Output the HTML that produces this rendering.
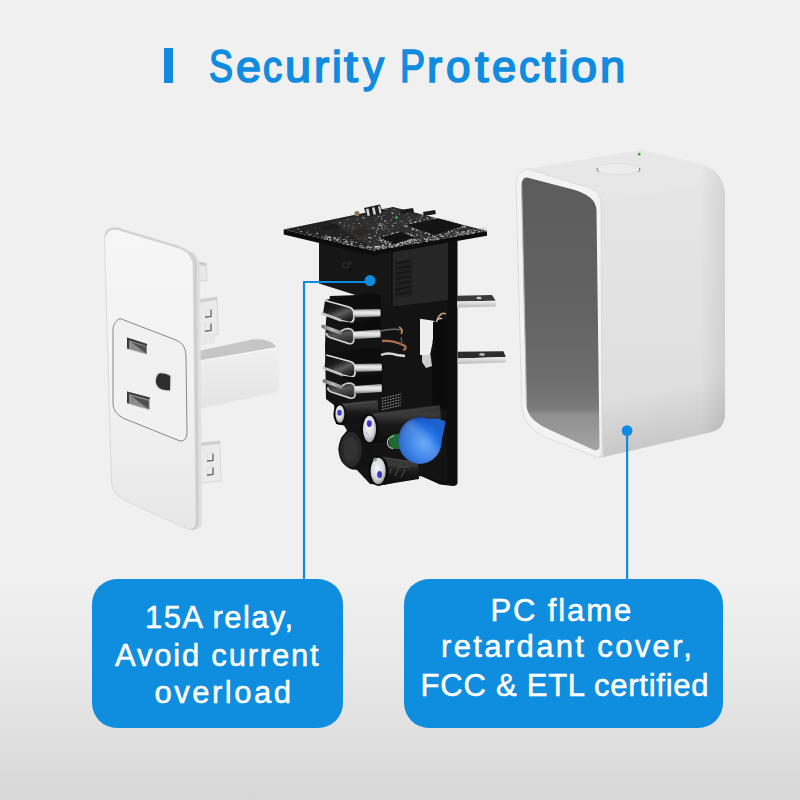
<!DOCTYPE html>
<html><head><meta charset="utf-8">
<style>
html,body{margin:0;padding:0;}
body{width:800px;height:800px;overflow:hidden;position:relative;font-family:"Liberation Sans",sans-serif;
background:linear-gradient(to bottom,#f0f0f0 0%,#f0f0f0 72%,#e8e8e8 84%,#d7d7d7 100%);}
.title{position:absolute;left:0;top:0;width:800px;height:120px;}
.bar{position:absolute;left:164px;top:48px;width:9px;height:35px;background:#0f8ce0;}
.ttl{position:absolute;left:0;top:0;width:800px;height:110px;color:#0f8ce0;}
.ttl span{position:absolute;display:block;line-height:1;white-space:nowrap;transform-origin:0 0;-webkit-text-stroke:1.7px #0f8ce0;}
.box{position:absolute;background:#0f8ee0;border-radius:25px;color:#fff;text-align:center;font-size:31px;line-height:38px;letter-spacing:1.2px;-webkit-text-stroke:0.5px #fff;}
.b1{left:92px;top:579px;width:251px;height:149px;}
.b2{left:404px;top:579px;width:319px;height:149px;}
.ln{position:absolute;white-space:nowrap;color:#fff;font-size:31px;line-height:31px;-webkit-text-stroke:0.5px #fff;}

svg{position:absolute;left:0;top:0;}
</style></head>
<body>
<div class="bar"></div>
<div class="ttl"><span style="left:208.93px;top:42.64px;font-size:46.5px;transform:scaleX(0.771)">S</span>
<span style="left:235.76px;top:44.75px;font-size:44.0px;transform:scaleX(1.020)">e</span>
<span style="left:263.26px;top:44.75px;font-size:44.0px;transform:scaleX(0.868)">c</span>
<span style="left:284.66px;top:44.75px;font-size:44.0px;transform:scaleX(1.064)">u</span>
<span style="left:313.86px;top:44.75px;font-size:44.0px;transform:scaleX(1.031)">r</span>
<span style="left:331.71px;top:44.75px;font-size:44.0px;transform:scaleX(0.997)">i</span>
<span style="left:344.11px;top:44.75px;font-size:44.0px;transform:scaleX(1.129)">t</span>
<span style="left:363.01px;top:44.75px;font-size:44.0px;transform:scaleX(0.953)">y</span>
<span style="left:400.11px;top:42.64px;font-size:46.5px;transform:scaleX(0.807)">P</span>
<span style="left:427.36px;top:44.75px;font-size:44.0px;transform:scaleX(1.031)">r</span>
<span style="left:446.15px;top:44.75px;font-size:44.0px;transform:scaleX(0.999)">o</span>
<span style="left:474.70px;top:44.75px;font-size:44.0px;transform:scaleX(1.098)">t</span>
<span style="left:492.29px;top:44.75px;font-size:44.0px;transform:scaleX(0.987)">e</span>
<span style="left:518.54px;top:44.75px;font-size:44.0px;transform:scaleX(0.943)">c</span>
<span style="left:541.70px;top:44.75px;font-size:44.0px;transform:scaleX(1.098)">t</span>
<span style="left:558.41px;top:44.75px;font-size:44.0px;transform:scaleX(1.069)">i</span>
<span style="left:571.24px;top:44.75px;font-size:44.0px;transform:scaleX(1.063)">o</span>
<span style="left:600.37px;top:44.75px;font-size:44.0px;transform:scaleX(1.030)">n</span></div>

<svg width="800" height="800" viewBox="0 0 800 800">
<g id="plate">
<linearGradient id="plF" x1="0" y1="0" x2="0" y2="1"><stop offset="0" stop-color="#f6f6f6"/><stop offset="0.55" stop-color="#f2f2f2"/><stop offset="1" stop-color="#e7e7e7"/></linearGradient>
<linearGradient id="barF" x1="0" y1="0" x2="0" y2="1"><stop offset="0" stop-color="#f0f0f0"/><stop offset="1" stop-color="#e4e4e4"/></linearGradient>
<!-- tabs behind plate -->
<path d="M194,262 L206,264 L207,281 L195,280 Z" fill="#e9e9e9" stroke="#c8c8c8" stroke-width="0.6"/>
<path d="M194,261 L206,263 L206,266 L194,264 Z" fill="#c9c9c9"/>
<path d="M197,300 L217,297 L218,334 L198,337 Z" fill="#ebebeb" stroke="#c8c8c8" stroke-width="0.6"/>
<path d="M197,300 L217,297 L217,300 L197,303 Z" fill="#cfcfcf"/>
<path d="M198,336 L215,333.5 L215,343 L198,346 Z" fill="#e8e8e8"/>
<path d="M211.0,309.5 L211.0,316.5 L205.0,317.1" stroke="#4a4a4a" stroke-width="1.1" fill="none"/><path d="M205.0,316.5 L205.0,309.5 L211.0,309.1" stroke="#dddddd" stroke-width="0.8" fill="none"/>
<path d="M211.0,323.5 L211.0,330.5 L205.0,331.1" stroke="#4a4a4a" stroke-width="1.1" fill="none"/><path d="M205.0,330.5 L205.0,323.5 L211.0,323.1" stroke="#dddddd" stroke-width="0.8" fill="none"/>
<path d="M200,443 L220,441 L221,481 L201,483 Z" fill="#ebebeb" stroke="#c8c8c8" stroke-width="0.6"/>
<path d="M200,443 L220,441 L220,444 L200,446 Z" fill="#cfcfcf"/>
<path d="M213.0,453.5 L213.0,460.5 L207.0,461.1" stroke="#4a4a4a" stroke-width="1.1" fill="none"/><path d="M207.0,460.5 L207.0,453.5 L213.0,453.1" stroke="#dddddd" stroke-width="0.8" fill="none"/>
<path d="M213.0,467.5 L213.0,474.5 L207.0,475.1" stroke="#4a4a4a" stroke-width="1.1" fill="none"/><path d="M207.0,474.5 L207.0,467.5 L213.0,467.1" stroke="#dddddd" stroke-width="0.8" fill="none"/>
<!-- horizontal bar -->
<path d="M196,351.6 L253.7,339.2 Q272,338.5 277.1,347.7 L196,361.6 Z" fill="#c6c6c6"/>
<path d="M196,361.6 L277.1,347.7 Q278.5,349 278.5,352 L278.5,389 Q278,392 275,392.6 L196,409.4 Z" fill="url(#barF)"/>
<path d="M196,361.6 L277.1,347.7" stroke="#f8f8f8" stroke-width="1.2" fill="none"/>
<!-- plate side -->
<path d="M188,250 Q199,254 200,266 L202,521 Q202,528 196,530 L189,529.5 Z" fill="#e0e0e0"/>
<path d="M190,252 Q196.5,256 197,266 L199,521 Q199,528 194,530 L189,529.5 Z" fill="#cfcfcf"/>
<!-- plate face -->
<path d="M104.5,240 Q105,228 116,227.6 L179,246.5 Q192,251 193,262 L196,520 Q196,529.5 189,529.5 L130,503 Q112,495 111.5,482 Z" fill="url(#plF)" stroke="#d6d6d6" stroke-width="0.8"/>
<path d="M105.5,236 Q106,228.6 116,228.4 L179,247.3 Q190.5,251.5 192.5,260" stroke="#d2d2d2" stroke-width="2.2" fill="none"/>
<!-- socket inset -->
<path d="M113,330 Q113,322 120,318.5 L176,340 Q186,344 186,356 L187,432 Q187,441.5 180,441 L124,418.5 Q113,413 113,404 Z" fill="#f1f1f1" stroke="#7c7c7c" stroke-width="0.9"/>
<path d="M127,337.5 L147,344 L147,354.6 L127,349 Z" fill="#8c8c8c"/>
<path d="M127,337.5 L147,344 L147,346 L129,340.2 L129,349.5 L127,349 Z" fill="#3a3a3a"/>
<path d="M131,342 L146,346.8 L146,353.6 Z" fill="#505050"/>
<path d="M127,349 L147,354.6" stroke="#d8d8d8" stroke-width="1"/>
<path d="M127,391.4 L149.6,397.5 L149.6,410 L127,403.6 Z" fill="#8c8c8c"/>
<path d="M127,391.4 L149.6,397.5 L149.6,399.5 L129,394 L129,404 L127,403.6 Z" fill="#3a3a3a"/>
<path d="M131,396 L148.6,400.8 L148.6,409 Z" fill="#505050"/>
<path d="M127,403.6 L149.6,410" stroke="#d8d8d8" stroke-width="1"/>
<path d="M157,373.5 Q154.5,376 154.5,381 Q155,388 161,390.5 Q166,392 171,391.5 L171.5,375 Q167,372 161,371.8 Q158.5,372 157,373.5 Z" fill="#dcdcdc"/>
<path d="M158,374.5 Q155.8,377 155.8,381 Q156.3,387 161.5,389.3 Q165.5,390.6 170,390.2 L170.3,376 Q166.5,373.3 161,373.2 Q159.3,373.3 158,374.5 Z" fill="#2e2e2e"/>
</g>

<g id="pcb">
<defs>
<linearGradient id="bar" x1="0" y1="0" x2="0" y2="1"><stop offset="0" stop-color="#8a8a8a"/><stop offset="0.35" stop-color="#ececec"/><stop offset="0.65" stop-color="#d6d6d6"/><stop offset="1" stop-color="#6c6c6c"/></linearGradient>
<linearGradient id="lip" x1="0" y1="0" x2="1" y2="0"><stop offset="0" stop-color="#7a7a7a"/><stop offset="0.5" stop-color="#b8b8b8"/><stop offset="1" stop-color="#8a8a8a"/></linearGradient>
<linearGradient id="innerU" x1="0" y1="0" x2="0.6" y2="1"><stop offset="0" stop-color="#0a0a0a"/><stop offset="0.45" stop-color="#1e1e1e"/><stop offset="0.7" stop-color="#5c5c5c"/><stop offset="0.85" stop-color="#3a3a3a"/><stop offset="1" stop-color="#202020"/></linearGradient><linearGradient id="innerL" x1="0" y1="0" x2="0.3" y2="1"><stop offset="0" stop-color="#1a1a1a"/><stop offset="0.5" stop-color="#555"/><stop offset="1" stop-color="#2a2a2a"/></linearGradient>
<radialGradient id="disc" cx="0.58" cy="0.58" r="0.6"><stop offset="0" stop-color="#4a95f5"/><stop offset="0.55" stop-color="#2272e2"/><stop offset="0.88" stop-color="#1a5cc8"/><stop offset="1" stop-color="#123f92"/></radialGradient>
<linearGradient id="discHi" x1="0" y1="1" x2="1" y2="0"><stop offset="0" stop-color="#fff" stop-opacity="0"/><stop offset="0.55" stop-color="#cfe4ff" stop-opacity="0.25"/><stop offset="0.7" stop-color="#fff" stop-opacity="0"/></linearGradient>
<radialGradient id="capEnd" cx="0.45" cy="0.4" r="0.65"><stop offset="0" stop-color="#f4f4fa"/><stop offset="0.6" stop-color="#d8d8e0"/><stop offset="1" stop-color="#8c8c94"/></radialGradient>
<linearGradient id="capBody" x1="0" y1="0" x2="0" y2="1"><stop offset="0" stop-color="#2c2c2c"/><stop offset="0.25" stop-color="#3a3a3a"/><stop offset="0.5" stop-color="#1a1a1a"/><stop offset="1" stop-color="#0c0c0c"/></linearGradient>
<linearGradient id="prongF" x1="0" y1="0" x2="0" y2="1"><stop offset="0" stop-color="#f0f0f0"/><stop offset="1" stop-color="#b8b8b8"/></linearGradient>
</defs>
<path d="M446,238 L457.5,240 L457.5,483 Q457,486 453,486 L440,484.5 L421,476 L410,470 L410,300 Z" fill="#0e0e0e"/>
<path d="M330,296 L447,292 L447,482 L421,476 L384,485 L370,484 L356,469 L342,462 L338.5,449 L341,438 L347,430.5 L344,425.5 L336,424 L334,405 L326,399 L325,345 L326,320 Z" fill="#131313"/>
<path d="M420,318.7 L435,321 L435,337.5 Q432,339 432.5,343 L430,355 L420,355 Z" fill="#eeeeee"/>
<path d="M422,355 L430.5,355 L432,366 L426,368 L422,362 Z" fill="#cdcdcd"/>
<path d="M433,322 Q440,318 447,320 L447,410 L433,408 Q431,380 433,345 Z" fill="#0b0b0b"/>
<path d="M437,320 Q441,311 446,314" stroke="#c89a7a" stroke-width="1.6" fill="none"/>
<path d="M436,322 Q439,317 442,319" stroke="#e0e0e0" stroke-width="1.2" fill="none"/>
<path d="M319,242 L373,255 L392,252 L392,306.5 L319,283.5 Z" fill="#161616"/>
<path d="M392,251.7 L448,241.8 L448,300 L392,306.5 Z" fill="#262626"/>
<path d="M392,252 L392,306.5" stroke="#0e0e0e" stroke-width="1.4"/>
<path d="M395,262 L412,259 L412,296 L395,299 Z" fill="#202020"/>
<path d="M395.5,263.5 L411.5,260.7" stroke="#141414" stroke-width="1.3"/>
<path d="M395.5,268.7 L411.5,265.9" stroke="#141414" stroke-width="1.3"/>
<path d="M395.5,273.9 L411.5,271.1" stroke="#141414" stroke-width="1.3"/>
<path d="M395.5,279.1 L411.5,276.3" stroke="#141414" stroke-width="1.3"/>
<path d="M395.5,284.3 L411.5,281.5" stroke="#141414" stroke-width="1.3"/>
<path d="M395.5,289.5 L411.5,286.7" stroke="#141414" stroke-width="1.3"/>
<path d="M395.5,294.7 L411.5,291.9" stroke="#141414" stroke-width="1.3"/>
<circle cx="345.5" cy="265" r="2.8" fill="none" stroke="#303030" stroke-width="1.1"/>
<circle cx="350" cy="263" r="1.6" fill="#2a2a2a"/>
<circle cx="350" cy="270" r="1.2" fill="#0a0a0a"/>
<path d="M457,295.8 L492,295 L495.7,300.7 L457,301.5 Z" fill="#3a3a3a"/>
<path d="M457,301.5 L495.7,300.7 L495.7,306.5 L457,307.5 Z" fill="url(#prongF)"/>
<ellipse cx="479" cy="298" rx="2.6" ry="1.3" fill="#c8c8c8"/>
<path d="M457.7,351.7 L503.5,351.2 L505.7,357 L457.7,358.5 Z" fill="#2c2c2c"/>
<path d="M457.7,358.5 L505.7,357 L505.7,362.5 L457.7,364 Z" fill="url(#prongF)"/>
<ellipse cx="482" cy="354.5" rx="3" ry="1.4" fill="#b4b4b4"/>
<path d="M 324.5,300.0 L 370.0,293.0 L 381.0,295.0 L 381.0,309.0 L 353.5,309.5 Z" fill="#0d0d0d"/><path d="M 325.0,300.5 L 349.0,307.0 Q 353.5,308.5 353.8,313.0 L 353.8,318.5 Q 353.5,323.0 348.5,322.5 L 340.0,320.5 L 323.0,314.0 Z" fill="url(#innerU)"/><path d="M 325.0,300.5 L 349.0,307.0 Q 353.5,308.5 353.8,313.0 L 353.8,318.5 Q 353.5,323.0 348.5,322.5 L 340.0,320.5" fill="none" stroke="#dcdcdc" stroke-width="1.8"/><path d="M 322.5,313.5 L 340.0,320.0" fill="none" stroke="#c4c4c4" stroke-width="2.6" stroke-linecap="round"/><path d="M 353.5,309.5 L 379.5,309.0 L 380.5,310.0 L 380.5,316.0 L 379.5,316.5 L 353.5,317.6 Z" fill="url(#bar)"/><path d="M 340.0,321.0 L 353.8,323.0 L 380.5,318.0 L 380.5,330.0 L 353.5,331.4 Z" fill="#0b0b0b"/><path d="M 326.4,330.5 Q 338.0,329.0 340.0,332.0 Q 344.0,328.5 348.0,328.5 Q 353.5,329.0 353.8,333.5 L 353.8,340.0 Q 353.5,344.5 349.0,343.6 L 330.0,337.5 Q 326.4,336.0 326.4,333.0 Z" fill="url(#innerL)"/><path d="M 340.0,332.0 Q 344.0,328.5 348.0,328.5 Q 353.5,329.0 353.8,333.5 L 353.8,340.0 Q 353.5,344.5 349.0,343.6 L 330.0,337.5 Q 326.4,336.0 326.4,333.0" fill="none" stroke="#d0d0d0" stroke-width="1.7"/><path d="M 323.0,326.5 L 340.0,332.5" fill="none" stroke="url(#lip)" stroke-width="3.6" stroke-linecap="round"/><path d="M 353.5,331.4 L 379.5,329.6 L 380.5,330.5 L 380.5,337.0 L 379.5,337.5 L 353.5,339.2 Z" fill="url(#bar)"/>
<path d="M 325.8,354.5 L 371.3,347.5 L 382.3,349.5 L 382.3,363.5 L 354.8,364.0 Z" fill="#0d0d0d"/><path d="M 326.3,355.0 L 350.3,361.5 Q 354.8,363.0 355.1,367.5 L 355.1,373.0 Q 354.8,377.5 349.8,377.0 L 341.3,375.0 L 324.3,368.5 Z" fill="url(#innerU)"/><path d="M 326.3,355.0 L 350.3,361.5 Q 354.8,363.0 355.1,367.5 L 355.1,373.0 Q 354.8,377.5 349.8,377.0 L 341.3,375.0" fill="none" stroke="#dcdcdc" stroke-width="1.8"/><path d="M 323.8,368.0 L 341.3,374.5" fill="none" stroke="#c4c4c4" stroke-width="2.6" stroke-linecap="round"/><path d="M 354.8,364.0 L 380.8,363.5 L 381.8,364.5 L 381.8,370.5 L 380.8,371.0 L 354.8,372.1 Z" fill="url(#bar)"/><path d="M 341.3,375.5 L 355.1,377.5 L 381.8,372.5 L 381.8,384.5 L 354.8,385.9 Z" fill="#0b0b0b"/><path d="M 327.7,385.0 Q 339.3,383.5 341.3,386.5 Q 345.3,383.0 349.3,383.0 Q 354.8,383.5 355.1,388.0 L 355.1,394.5 Q 354.8,399.0 350.3,398.1 L 331.3,392.0 Q 327.7,390.5 327.7,387.5 Z" fill="url(#innerL)"/><path d="M 341.3,386.5 Q 345.3,383.0 349.3,383.0 Q 354.8,383.5 355.1,388.0 L 355.1,394.5 Q 354.8,399.0 350.3,398.1 L 331.3,392.0 Q 327.7,390.5 327.7,387.5" fill="none" stroke="#d0d0d0" stroke-width="1.7"/><path d="M 324.3,381.0 L 341.3,387.0" fill="none" stroke="url(#lip)" stroke-width="3.6" stroke-linecap="round"/><path d="M 354.8,385.9 L 380.8,384.1 L 381.8,385.0 L 381.8,391.5 L 380.8,392.0 L 354.8,393.7 Z" fill="url(#bar)"/>
<path d="M381,331 Q392,328 402,330" stroke="#6a6a6a" stroke-width="1.6" fill="none"/>
<path d="M399,327 Q404,330 401,334" stroke="#b87a55" stroke-width="2" fill="none"/>
<path d="M382,341 Q394,340 405,346 Q407,349 403,350" stroke="#a86e4e" stroke-width="2.3" fill="none"/>
<path d="M381,355 Q388,352 397,355 L405,356" stroke="#d8d8d8" stroke-width="2.4" fill="none"/>
<path d="M401,337 L402,343" stroke="#4a6a8a" stroke-width="1.2"/>
<path d="M337.5,404 L377.8,399.6 L379,419 L341,424.5 Z" fill="url(#capBody)"/>
<path d="M339,405.5 L377,401.5" stroke="#4a4a4a" stroke-width="1.6"/>
<ellipse cx="339.8" cy="414.2" rx="6.4" ry="10.6" fill="#0a0a0a"/>
<ellipse cx="339.9" cy="414" rx="4.5" ry="8.8" fill="url(#capEnd)"/>
<ellipse cx="339.5" cy="412.8" rx="2.2" ry="3" fill="#3a3ac0"/>
<ellipse cx="355.5" cy="449.5" rx="17" ry="20.2" fill="#121212"/>
<ellipse cx="351" cy="449.5" rx="10.8" ry="17.6" fill="#282828"/>
<ellipse cx="350.5" cy="449.5" rx="7" ry="12.5" fill="#323232"/>
<path d="M367,414 L440,405 L442,437 L371,443.4 Z" fill="url(#capBody)"/>
<path d="M369,416 L438,407" stroke="#3c3c3c" stroke-width="1.8"/>
<path d="M379,397 L402,392 L404,407 L381,412 Z" fill="#151515"/>
<path d="M382.0,398.5 L401.0,394.0" stroke="#9a9a9a" stroke-width="1" stroke-dasharray="1.6 1.1"/>
<path d="M382.0,401.3 L401.0,396.8" stroke="#9a9a9a" stroke-width="1" stroke-dasharray="1.6 1.1"/>
<path d="M382.0,404.1 L401.0,399.6" stroke="#9a9a9a" stroke-width="1" stroke-dasharray="1.6 1.1"/>
<path d="M382.0,406.9 L401.0,402.4" stroke="#9a9a9a" stroke-width="1" stroke-dasharray="1.6 1.1"/>
<path d="M382.0,409.7 L401.0,405.2" stroke="#9a9a9a" stroke-width="1" stroke-dasharray="1.6 1.1"/>
<ellipse cx="369.3" cy="428.6" rx="9" ry="15" fill="#0a0a0a"/>
<ellipse cx="369.5" cy="429" rx="6.6" ry="13.2" fill="url(#capEnd)"/>
<ellipse cx="369.3" cy="423.6" rx="2.4" ry="3.4" fill="#3636c0"/>
<path d="M366,432 L372,440" stroke="#b0b0b0" stroke-width="0.8"/>
<path d="M389,442 Q389,434 395,434 L400,434 L400,449 L395,449 Q389,448.5 389,442 Z" fill="#1d6b2e"/>
<path d="M394,436 Q387,437 387.5,443 Q388,448 393,448.5" stroke="#c4c4c4" stroke-width="1.2" fill="none"/>
<path d="M376,457 L418,462 L419,479 L379,485.5 Z" fill="url(#capBody)"/>
<path d="M379,457 L416,462.5" stroke="#444" stroke-width="1.6"/>
<path d="M395,476 L399,467 L410,466.5 M401,478 L405,469 M390,474 Q389,470 392,469" stroke="#4e4e4e" stroke-width="1" fill="none"/>
<ellipse cx="378.6" cy="471" rx="10" ry="15" fill="#0a0a0a"/>
<ellipse cx="378.2" cy="471" rx="7.6" ry="13.2" fill="url(#capEnd)"/>
<ellipse cx="379.6" cy="474.5" rx="2.4" ry="3.5" fill="#3636c0"/>
<circle cx="375" cy="459.5" r="2" fill="#7a9a7a" opacity="0.8"/>
<path d="M426,419 Q438,417 445.5,421.5 Q444,433 440,446 Z" fill="#1e62d0"/>
<ellipse cx="420" cy="440.5" rx="21.8" ry="23.4" fill="url(#disc)"/>
<ellipse cx="420" cy="440.5" rx="21.8" ry="23.4" fill="url(#discHi)"/>
<path d="M283.7,229.5 L283.7,234.5 L373,255.8 L487,235.8 L487,231 L373,250.5 Z" fill="#0c0c0c"/>
<path d="M283.7,229.5 L393,207 L487,231 L373,250.5 Z" fill="#222222"/>
<path d="M330,222 L393,208.5 L484,231 L373,249 Z" fill="#2e2e2e"/>
<rect x="375.8" y="231.6" width="1.2" height="1.1" fill="rgb(160,160,160)"/>
<rect x="380.6" y="234.0" width="0.8" height="0.7" fill="rgb(75,75,75)"/>
<rect x="416.7" y="234.1" width="1.4" height="1.1" fill="rgb(75,75,75)"/>
<rect x="462.6" y="233.4" width="1.1" height="0.9" fill="rgb(160,160,160)"/>
<rect x="366.6" y="231.3" width="1.5" height="0.7" fill="rgb(65,65,65)"/>
<rect x="365.3" y="244.2" width="1.6" height="0.5" fill="rgb(55,55,55)"/>
<rect x="411.8" y="241.3" width="1.1" height="0.7" fill="rgb(105,105,105)"/>
<rect x="378.4" y="228.4" width="0.9" height="0.9" fill="rgb(185,185,185)"/>
<rect x="369.1" y="223.9" width="0.7" height="1.1" fill="rgb(90,90,90)"/>
<rect x="406.2" y="232.4" width="1.8" height="0.6" fill="rgb(55,55,55)"/>
<rect x="406.1" y="223.4" width="0.8" height="0.9" fill="rgb(160,160,160)"/>
<rect x="423.5" y="224.1" width="1.4" height="0.8" fill="rgb(160,160,160)"/>
<rect x="427.0" y="218.3" width="1.2" height="0.9" fill="rgb(210,210,210)"/>
<rect x="341.2" y="230.4" width="1.1" height="1.1" fill="rgb(65,65,65)"/>
<rect x="424.3" y="232.7" width="1.3" height="1.1" fill="rgb(75,75,75)"/>
<rect x="380.4" y="222.7" width="1.8" height="0.5" fill="rgb(105,105,105)"/>
<rect x="413.1" y="228.2" width="1.1" height="1.2" fill="rgb(105,105,105)"/>
<rect x="460.8" y="225.4" width="1.6" height="0.9" fill="rgb(55,55,55)"/>
<rect x="410.9" y="223.8" width="0.7" height="0.6" fill="rgb(210,210,210)"/>
<rect x="376.9" y="227.4" width="0.8" height="1.0" fill="rgb(185,185,185)"/>
<rect x="381.6" y="217.1" width="1.2" height="0.9" fill="rgb(65,65,65)"/>
<rect x="421.7" y="215.9" width="1.5" height="0.7" fill="rgb(75,75,75)"/>
<rect x="472.9" y="228.9" width="1.1" height="1.0" fill="rgb(90,90,90)"/>
<rect x="384.3" y="220.9" width="1.2" height="0.6" fill="rgb(210,210,210)"/>
<rect x="399.8" y="220.6" width="0.7" height="0.6" fill="rgb(210,210,210)"/>
<rect x="411.7" y="226.6" width="1.4" height="1.1" fill="rgb(185,185,185)"/>
<rect x="339.3" y="222.2" width="1.3" height="1.2" fill="rgb(185,185,185)"/>
<rect x="426.1" y="216.9" width="1.7" height="1.0" fill="rgb(140,140,140)"/>
<rect x="399.5" y="245.7" width="1.2" height="1.0" fill="rgb(120,120,120)"/>
<rect x="414.2" y="238.6" width="1.0" height="0.8" fill="rgb(90,90,90)"/>
<rect x="386.5" y="208.6" width="1.3" height="1.0" fill="rgb(120,120,120)"/>
<rect x="476.0" y="228.7" width="1.5" height="0.8" fill="rgb(65,65,65)"/>
<rect x="397.4" y="243.6" width="1.4" height="0.9" fill="rgb(185,185,185)"/>
<rect x="455.3" y="231.6" width="1.4" height="1.2" fill="rgb(105,105,105)"/>
<rect x="460.6" y="233.8" width="1.6" height="1.2" fill="rgb(105,105,105)"/>
<rect x="390.4" y="232.2" width="1.2" height="0.6" fill="rgb(90,90,90)"/>
<rect x="393.3" y="208.9" width="1.3" height="1.2" fill="rgb(140,140,140)"/>
<rect x="377.2" y="247.5" width="1.0" height="0.8" fill="rgb(140,140,140)"/>
<rect x="466.8" y="228.0" width="0.8" height="0.8" fill="rgb(120,120,120)"/>
<rect x="430.9" y="217.8" width="0.8" height="1.0" fill="rgb(160,160,160)"/>
<rect x="360.3" y="225.2" width="1.3" height="1.1" fill="rgb(75,75,75)"/>
<rect x="392.4" y="216.6" width="1.6" height="0.9" fill="rgb(90,90,90)"/>
<rect x="324.8" y="237.0" width="1.5" height="0.9" fill="rgb(65,65,65)"/>
<rect x="438.7" y="234.0" width="1.2" height="0.6" fill="rgb(210,210,210)"/>
<rect x="420.6" y="232.5" width="1.7" height="0.8" fill="rgb(75,75,75)"/>
<rect x="439.2" y="221.4" width="1.2" height="0.7" fill="rgb(160,160,160)"/>
<rect x="366.8" y="222.8" width="1.4" height="0.6" fill="rgb(90,90,90)"/>
<rect x="444.8" y="221.2" width="1.6" height="1.0" fill="rgb(65,65,65)"/>
<rect x="458.7" y="234.7" width="1.3" height="0.6" fill="rgb(140,140,140)"/>
<rect x="402.7" y="222.0" width="1.0" height="0.6" fill="rgb(105,105,105)"/>
<rect x="351.0" y="230.7" width="1.5" height="0.8" fill="rgb(140,140,140)"/>
<rect x="356.2" y="235.1" width="1.0" height="1.2" fill="rgb(90,90,90)"/>
<rect x="388.5" y="228.9" width="1.5" height="1.0" fill="rgb(90,90,90)"/>
<rect x="408.9" y="239.5" width="1.2" height="0.9" fill="rgb(105,105,105)"/>
<rect x="438.5" y="235.5" width="0.8" height="0.7" fill="rgb(55,55,55)"/>
<rect x="467.8" y="231.2" width="1.2" height="0.9" fill="rgb(185,185,185)"/>
<rect x="374.2" y="235.4" width="1.4" height="1.0" fill="rgb(185,185,185)"/>
<rect x="384.6" y="233.9" width="1.2" height="0.8" fill="rgb(55,55,55)"/>
<rect x="391.7" y="228.3" width="1.3" height="0.7" fill="rgb(105,105,105)"/>
<rect x="429.5" y="220.0" width="1.5" height="0.9" fill="rgb(55,55,55)"/>
<rect x="412.5" y="225.0" width="0.8" height="0.7" fill="rgb(140,140,140)"/>
<rect x="364.7" y="232.6" width="0.8" height="1.1" fill="rgb(120,120,120)"/>
<rect x="371.2" y="228.0" width="0.7" height="0.6" fill="rgb(90,90,90)"/>
<rect x="368.6" y="233.4" width="1.1" height="1.0" fill="rgb(140,140,140)"/>
<rect x="381.7" y="229.1" width="1.6" height="0.9" fill="rgb(105,105,105)"/>
<rect x="356.9" y="218.9" width="0.9" height="0.7" fill="rgb(210,210,210)"/>
<rect x="385.9" y="235.7" width="1.7" height="0.5" fill="rgb(90,90,90)"/>
<rect x="370.3" y="234.4" width="0.9" height="0.7" fill="rgb(65,65,65)"/>
<rect x="374.8" y="243.2" width="1.2" height="1.0" fill="rgb(90,90,90)"/>
<rect x="453.8" y="233.3" width="1.3" height="1.0" fill="rgb(105,105,105)"/>
<rect x="423.1" y="220.2" width="0.8" height="0.6" fill="rgb(55,55,55)"/>
<rect x="345.7" y="238.9" width="1.7" height="0.7" fill="rgb(105,105,105)"/>
<rect x="417.4" y="221.4" width="1.1" height="0.8" fill="rgb(65,65,65)"/>
<rect x="423.5" y="219.3" width="1.6" height="0.7" fill="rgb(185,185,185)"/>
<rect x="348.5" y="224.6" width="1.0" height="0.8" fill="rgb(185,185,185)"/>
<rect x="358.2" y="223.0" width="1.6" height="1.0" fill="rgb(140,140,140)"/>
<rect x="404.0" y="214.8" width="1.5" height="1.1" fill="rgb(65,65,65)"/>
<rect x="388.7" y="230.9" width="1.0" height="0.5" fill="rgb(210,210,210)"/>
<rect x="454.9" y="225.6" width="1.3" height="1.1" fill="rgb(210,210,210)"/>
<rect x="415.7" y="217.8" width="1.2" height="1.1" fill="rgb(90,90,90)"/>
<rect x="352.6" y="227.2" width="1.4" height="0.8" fill="rgb(120,120,120)"/>
<rect x="393.1" y="238.7" width="1.7" height="0.8" fill="rgb(210,210,210)"/>
<rect x="451.7" y="236.3" width="1.6" height="1.1" fill="rgb(55,55,55)"/>
<rect x="414.0" y="230.0" width="1.6" height="0.8" fill="rgb(55,55,55)"/>
<rect x="369.4" y="213.4" width="1.5" height="0.7" fill="rgb(140,140,140)"/>
<rect x="463.9" y="227.7" width="1.0" height="0.6" fill="rgb(65,65,65)"/>
<rect x="381.7" y="242.2" width="0.8" height="0.6" fill="rgb(120,120,120)"/>
<rect x="429.6" y="233.2" width="1.2" height="1.1" fill="rgb(90,90,90)"/>
<rect x="365.7" y="247.1" width="1.7" height="0.9" fill="rgb(185,185,185)"/>
<rect x="457.2" y="228.3" width="1.7" height="0.7" fill="rgb(140,140,140)"/>
<rect x="382.0" y="216.7" width="0.9" height="0.6" fill="rgb(55,55,55)"/>
<rect x="375.4" y="217.8" width="1.4" height="0.6" fill="rgb(140,140,140)"/>
<rect x="388.8" y="235.0" width="1.0" height="0.9" fill="rgb(210,210,210)"/>
<rect x="381.5" y="227.6" width="1.3" height="0.9" fill="rgb(210,210,210)"/>
<rect x="367.9" y="228.7" width="1.0" height="0.8" fill="rgb(105,105,105)"/>
<rect x="419.5" y="236.7" width="1.4" height="0.5" fill="rgb(65,65,65)"/>
<rect x="398.5" y="227.2" width="1.6" height="1.1" fill="rgb(55,55,55)"/>
<rect x="314.9" y="234.6" width="1.5" height="0.9" fill="rgb(120,120,120)"/>
<rect x="346.9" y="219.0" width="1.6" height="0.6" fill="rgb(160,160,160)"/>
<rect x="421.6" y="238.2" width="0.9" height="0.5" fill="rgb(75,75,75)"/>
<rect x="378.0" y="238.0" width="0.9" height="0.6" fill="rgb(65,65,65)"/>
<rect x="387.8" y="235.5" width="1.6" height="0.8" fill="rgb(75,75,75)"/>
<rect x="365.3" y="237.8" width="1.4" height="0.9" fill="rgb(90,90,90)"/>
<rect x="360.7" y="229.4" width="1.4" height="0.6" fill="rgb(65,65,65)"/>
<rect x="395.3" y="222.5" width="1.3" height="0.9" fill="rgb(185,185,185)"/>
<rect x="474.0" y="232.0" width="1.4" height="0.6" fill="rgb(55,55,55)"/>
<rect x="401.0" y="237.7" width="0.8" height="1.1" fill="rgb(120,120,120)"/>
<rect x="375.8" y="239.1" width="1.7" height="0.9" fill="rgb(90,90,90)"/>
<rect x="397.8" y="231.7" width="0.9" height="1.0" fill="rgb(105,105,105)"/>
<rect x="357.8" y="240.4" width="0.9" height="0.9" fill="rgb(75,75,75)"/>
<rect x="346.5" y="236.5" width="1.4" height="0.9" fill="rgb(140,140,140)"/>
<rect x="391.2" y="212.2" width="0.9" height="0.9" fill="rgb(140,140,140)"/>
<rect x="379.4" y="225.1" width="1.7" height="0.9" fill="rgb(210,210,210)"/>
<rect x="351.1" y="229.9" width="1.1" height="0.5" fill="rgb(55,55,55)"/>
<rect x="432.6" y="233.3" width="1.7" height="1.1" fill="rgb(105,105,105)"/>
<rect x="394.6" y="235.9" width="1.7" height="1.2" fill="rgb(90,90,90)"/>
<rect x="358.9" y="231.0" width="0.9" height="1.0" fill="rgb(75,75,75)"/>
<rect x="449.5" y="224.5" width="1.5" height="0.7" fill="rgb(120,120,120)"/>
<rect x="425.7" y="231.6" width="1.4" height="0.6" fill="rgb(185,185,185)"/>
<rect x="418.9" y="241.8" width="1.6" height="0.9" fill="rgb(120,120,120)"/>
<rect x="307.5" y="229.7" width="1.4" height="0.7" fill="rgb(75,75,75)"/>
<rect x="391.2" y="230.4" width="0.7" height="0.9" fill="rgb(55,55,55)"/>
<rect x="393.1" y="225.6" width="0.8" height="0.7" fill="rgb(210,210,210)"/>
<rect x="436.4" y="223.9" width="0.8" height="0.5" fill="rgb(160,160,160)"/>
<rect x="343.2" y="243.4" width="1.5" height="0.9" fill="rgb(185,185,185)"/>
<rect x="404.6" y="240.9" width="1.4" height="0.7" fill="rgb(65,65,65)"/>
<rect x="373.4" y="241.0" width="1.0" height="0.9" fill="rgb(90,90,90)"/>
<rect x="457.1" y="233.5" width="0.7" height="0.9" fill="rgb(105,105,105)"/>
<rect x="429.1" y="232.2" width="1.1" height="0.9" fill="rgb(75,75,75)"/>
<rect x="407.5" y="242.5" width="1.2" height="0.7" fill="rgb(185,185,185)"/>
<rect x="468.2" y="232.0" width="1.3" height="1.0" fill="rgb(185,185,185)"/>
<rect x="370.3" y="237.6" width="1.5" height="1.0" fill="rgb(210,210,210)"/>
<rect x="439.4" y="228.9" width="0.9" height="0.7" fill="rgb(185,185,185)"/>
<rect x="383.4" y="240.5" width="0.9" height="0.8" fill="rgb(75,75,75)"/>
<rect x="396.0" y="217.6" width="0.8" height="0.7" fill="rgb(160,160,160)"/>
<rect x="316.6" y="232.8" width="1.5" height="1.1" fill="rgb(210,210,210)"/>
<rect x="377.9" y="224.3" width="1.1" height="1.0" fill="rgb(90,90,90)"/>
<rect x="395.6" y="214.2" width="1.1" height="0.9" fill="rgb(90,90,90)"/>
<rect x="438.2" y="227.8" width="1.8" height="1.0" fill="rgb(160,160,160)"/>
<rect x="424.3" y="223.0" width="1.4" height="0.9" fill="rgb(105,105,105)"/>
<rect x="434.5" y="229.5" width="1.7" height="1.0" fill="rgb(210,210,210)"/>
<rect x="439.4" y="238.8" width="0.7" height="0.7" fill="rgb(65,65,65)"/>
<rect x="440.5" y="229.8" width="1.0" height="0.9" fill="rgb(55,55,55)"/>
<rect x="383.2" y="215.3" width="1.4" height="0.5" fill="rgb(185,185,185)"/>
<rect x="347.4" y="225.7" width="1.3" height="0.9" fill="rgb(75,75,75)"/>
<rect x="347.7" y="226.9" width="1.6" height="0.9" fill="rgb(90,90,90)"/>
<rect x="375.2" y="213.0" width="1.7" height="0.7" fill="rgb(185,185,185)"/>
<rect x="412.0" y="231.9" width="1.4" height="0.5" fill="rgb(105,105,105)"/>
<rect x="457.1" y="231.6" width="1.4" height="1.2" fill="rgb(120,120,120)"/>
<rect x="370.8" y="224.3" width="1.2" height="1.2" fill="rgb(55,55,55)"/>
<rect x="440.0" y="222.4" width="1.3" height="1.0" fill="rgb(90,90,90)"/>
<rect x="381.1" y="218.3" width="1.0" height="1.1" fill="rgb(185,185,185)"/>
<rect x="339.2" y="223.6" width="1.2" height="0.7" fill="rgb(105,105,105)"/>
<rect x="398.8" y="218.5" width="1.4" height="0.8" fill="rgb(75,75,75)"/>
<rect x="378.2" y="226.8" width="0.7" height="0.6" fill="rgb(140,140,140)"/>
<rect x="386.9" y="220.6" width="1.2" height="0.5" fill="rgb(120,120,120)"/>
<rect x="406.9" y="218.9" width="1.4" height="0.7" fill="rgb(105,105,105)"/>
<rect x="364.0" y="217.5" width="0.8" height="1.1" fill="rgb(185,185,185)"/>
<rect x="343.6" y="225.3" width="1.2" height="1.0" fill="rgb(185,185,185)"/>
<rect x="357.5" y="238.1" width="1.7" height="1.2" fill="rgb(75,75,75)"/>
<rect x="347.0" y="244.4" width="0.7" height="0.9" fill="rgb(160,160,160)"/>
<rect x="364.7" y="239.5" width="1.5" height="0.7" fill="rgb(105,105,105)"/>
<rect x="429.3" y="221.4" width="1.6" height="0.6" fill="rgb(120,120,120)"/>
<rect x="398.4" y="212.7" width="1.4" height="0.6" fill="rgb(140,140,140)"/>
<rect x="434.3" y="218.8" width="0.8" height="0.8" fill="rgb(75,75,75)"/>
<rect x="419.9" y="217.2" width="1.8" height="0.8" fill="rgb(75,75,75)"/>
<rect x="419.2" y="224.0" width="0.8" height="1.0" fill="rgb(75,75,75)"/>
<rect x="342.1" y="239.2" width="1.1" height="1.1" fill="rgb(65,65,65)"/>
<rect x="373.1" y="245.3" width="0.9" height="1.0" fill="rgb(105,105,105)"/>
<rect x="366.9" y="213.2" width="1.3" height="1.1" fill="rgb(90,90,90)"/>
<rect x="398.9" y="213.3" width="1.0" height="0.7" fill="rgb(140,140,140)"/>
<rect x="381.9" y="223.1" width="1.3" height="0.6" fill="rgb(105,105,105)"/>
<rect x="355.3" y="231.6" width="1.3" height="1.0" fill="rgb(90,90,90)"/>
<rect x="410.5" y="219.2" width="1.7" height="1.2" fill="rgb(105,105,105)"/>
<rect x="374.0" y="243.7" width="0.9" height="0.5" fill="rgb(55,55,55)"/>
<rect x="437.0" y="220.6" width="1.2" height="1.1" fill="rgb(185,185,185)"/>
<rect x="384.5" y="220.5" width="1.6" height="1.0" fill="rgb(185,185,185)"/>
<rect x="427.2" y="218.0" width="0.7" height="0.9" fill="rgb(210,210,210)"/>
<rect x="417.4" y="242.7" width="1.4" height="0.8" fill="rgb(120,120,120)"/>
<rect x="416.6" y="233.1" width="1.1" height="1.0" fill="rgb(105,105,105)"/>
<rect x="394.9" y="236.9" width="1.1" height="0.6" fill="rgb(75,75,75)"/>
<rect x="401.5" y="221.1" width="1.8" height="0.7" fill="rgb(160,160,160)"/>
<rect x="339.5" y="236.8" width="1.7" height="1.0" fill="rgb(120,120,120)"/>
<rect x="432.2" y="236.1" width="0.9" height="0.9" fill="rgb(55,55,55)"/>
<rect x="411.6" y="229.2" width="1.7" height="0.6" fill="rgb(210,210,210)"/>
<rect x="434.0" y="239.7" width="1.4" height="0.8" fill="rgb(140,140,140)"/>
<rect x="362.1" y="217.1" width="1.7" height="0.9" fill="rgb(185,185,185)"/>
<rect x="375.7" y="219.5" width="1.4" height="1.2" fill="rgb(55,55,55)"/>
<rect x="314.8" y="227.6" width="0.9" height="0.8" fill="rgb(120,120,120)"/>
<rect x="396.0" y="209.3" width="1.5" height="1.1" fill="rgb(75,75,75)"/>
<rect x="389.1" y="222.3" width="1.3" height="1.1" fill="rgb(90,90,90)"/>
<rect x="396.7" y="241.6" width="1.7" height="0.6" fill="rgb(160,160,160)"/>
<rect x="384.8" y="209.5" width="1.8" height="0.5" fill="rgb(185,185,185)"/>
<rect x="422.4" y="227.5" width="0.8" height="1.2" fill="rgb(160,160,160)"/>
<rect x="419.7" y="226.0" width="1.6" height="1.0" fill="rgb(55,55,55)"/>
<rect x="417.6" y="216.2" width="0.9" height="0.6" fill="rgb(90,90,90)"/>
<rect x="424.8" y="227.5" width="1.0" height="0.7" fill="rgb(75,75,75)"/>
<rect x="384.0" y="212.2" width="1.7" height="0.7" fill="rgb(65,65,65)"/>
<rect x="376.4" y="248.1" width="0.9" height="0.8" fill="rgb(140,140,140)"/>
<rect x="351.7" y="232.7" width="1.0" height="1.0" fill="rgb(105,105,105)"/>
<rect x="420.4" y="217.8" width="1.1" height="0.9" fill="rgb(140,140,140)"/>
<rect x="459.8" y="224.1" width="1.1" height="1.1" fill="rgb(105,105,105)"/>
<rect x="456.6" y="233.0" width="1.4" height="0.8" fill="rgb(185,185,185)"/>
<rect x="403.8" y="237.7" width="1.4" height="0.6" fill="rgb(55,55,55)"/>
<rect x="386.7" y="228.1" width="0.8" height="0.7" fill="rgb(210,210,210)"/>
<rect x="372.0" y="217.1" width="1.8" height="0.5" fill="rgb(65,65,65)"/>
<rect x="377.8" y="224.7" width="1.3" height="0.9" fill="rgb(90,90,90)"/>
<rect x="385.0" y="243.5" width="1.1" height="1.0" fill="rgb(185,185,185)"/>
<rect x="415.7" y="234.4" width="1.4" height="1.2" fill="rgb(105,105,105)"/>
<rect x="380.2" y="245.9" width="1.2" height="0.5" fill="rgb(140,140,140)"/>
<rect x="355.3" y="230.6" width="1.6" height="0.6" fill="rgb(65,65,65)"/>
<rect x="418.5" y="229.4" width="1.0" height="1.0" fill="rgb(105,105,105)"/>
<rect x="377.3" y="244.4" width="1.6" height="0.9" fill="rgb(65,65,65)"/>
<rect x="433.7" y="223.6" width="1.3" height="0.5" fill="rgb(105,105,105)"/>
<rect x="383.3" y="235.8" width="1.7" height="0.9" fill="rgb(185,185,185)"/>
<rect x="385.7" y="246.8" width="1.4" height="0.7" fill="rgb(140,140,140)"/>
<rect x="405.8" y="216.7" width="1.2" height="0.8" fill="rgb(65,65,65)"/>
<rect x="356.8" y="225.9" width="1.0" height="0.9" fill="rgb(55,55,55)"/>
<rect x="450.2" y="236.7" width="0.7" height="0.8" fill="rgb(120,120,120)"/>
<rect x="477.0" y="229.9" width="1.2" height="0.5" fill="rgb(185,185,185)"/>
<rect x="405.4" y="223.2" width="0.9" height="1.0" fill="rgb(105,105,105)"/>
<rect x="403.7" y="242.5" width="1.4" height="0.8" fill="rgb(140,140,140)"/>
<rect x="383.5" y="224.4" width="1.3" height="1.1" fill="rgb(65,65,65)"/>
<rect x="433.6" y="225.4" width="0.9" height="0.6" fill="rgb(65,65,65)"/>
<rect x="437.7" y="236.8" width="1.2" height="1.1" fill="rgb(65,65,65)"/>
<rect x="426.7" y="224.5" width="0.8" height="1.1" fill="rgb(185,185,185)"/>
<rect x="366.7" y="246.5" width="1.4" height="1.1" fill="rgb(90,90,90)"/>
<rect x="384.2" y="237.3" width="1.3" height="0.8" fill="rgb(140,140,140)"/>
<rect x="395.6" y="244.6" width="1.1" height="0.5" fill="rgb(210,210,210)"/>
<rect x="451.1" y="235.7" width="1.4" height="0.9" fill="rgb(140,140,140)"/>
<rect x="362.9" y="232.3" width="1.5" height="0.6" fill="rgb(120,120,120)"/>
<rect x="426.9" y="224.4" width="1.5" height="0.7" fill="rgb(65,65,65)"/>
<rect x="337.0" y="239.1" width="1.7" height="1.1" fill="rgb(105,105,105)"/>
<rect x="368.0" y="230.4" width="1.0" height="1.0" fill="rgb(65,65,65)"/>
<rect x="425.8" y="232.0" width="1.2" height="0.8" fill="rgb(185,185,185)"/>
<rect x="374.7" y="249.7" width="1.6" height="0.6" fill="rgb(120,120,120)"/>
<rect x="429.9" y="219.8" width="0.8" height="0.8" fill="rgb(105,105,105)"/>
<rect x="419.6" y="219.6" width="0.8" height="0.8" fill="rgb(185,185,185)"/>
<rect x="387.4" y="245.4" width="1.6" height="0.9" fill="rgb(75,75,75)"/>
<rect x="436.3" y="237.9" width="1.6" height="0.7" fill="rgb(210,210,210)"/>
<rect x="375.9" y="223.3" width="1.7" height="0.9" fill="rgb(90,90,90)"/>
<rect x="398.9" y="222.3" width="0.8" height="0.9" fill="rgb(90,90,90)"/>
<rect x="434.8" y="220.3" width="0.8" height="0.9" fill="rgb(55,55,55)"/>
<rect x="443.3" y="229.9" width="1.2" height="1.0" fill="rgb(65,65,65)"/>
<rect x="393.9" y="245.4" width="1.6" height="1.2" fill="rgb(75,75,75)"/>
<rect x="403.9" y="237.2" width="1.7" height="0.7" fill="rgb(210,210,210)"/>
<rect x="406.8" y="244.3" width="0.7" height="0.5" fill="rgb(65,65,65)"/>
<rect x="453.2" y="224.9" width="0.9" height="0.8" fill="rgb(120,120,120)"/>
<rect x="430.7" y="229.9" width="1.2" height="0.7" fill="rgb(120,120,120)"/>
<rect x="381.2" y="241.5" width="0.9" height="1.0" fill="rgb(120,120,120)"/>
<rect x="407.9" y="233.2" width="1.0" height="1.1" fill="rgb(210,210,210)"/>
<rect x="345.2" y="221.5" width="1.3" height="0.6" fill="rgb(90,90,90)"/>
<rect x="328.2" y="225.2" width="0.8" height="0.6" fill="rgb(120,120,120)"/>
<rect x="468.1" y="231.7" width="1.2" height="1.1" fill="rgb(65,65,65)"/>
<rect x="376.1" y="223.4" width="1.7" height="0.6" fill="rgb(65,65,65)"/>
<rect x="431.3" y="236.8" width="1.0" height="0.6" fill="rgb(65,65,65)"/>
<rect x="399.2" y="240.5" width="1.0" height="0.6" fill="rgb(185,185,185)"/>
<rect x="382.2" y="246.3" width="1.2" height="0.9" fill="rgb(210,210,210)"/>
<rect x="455.7" y="227.5" width="0.9" height="0.8" fill="rgb(90,90,90)"/>
<rect x="421.7" y="226.3" width="1.1" height="0.5" fill="rgb(210,210,210)"/>
<rect x="446.2" y="229.0" width="1.2" height="0.6" fill="rgb(65,65,65)"/>
<rect x="409.6" y="223.3" width="1.0" height="1.0" fill="rgb(160,160,160)"/>
<rect x="401.6" y="233.9" width="1.3" height="0.8" fill="rgb(140,140,140)"/>
<rect x="354.5" y="231.6" width="1.4" height="1.0" fill="rgb(185,185,185)"/>
<rect x="418.5" y="224.6" width="1.3" height="0.9" fill="rgb(160,160,160)"/>
<rect x="377.8" y="211.0" width="1.4" height="0.5" fill="rgb(160,160,160)"/>
<rect x="393.3" y="209.2" width="1.6" height="0.7" fill="rgb(105,105,105)"/>
<rect x="386.3" y="225.8" width="0.8" height="0.6" fill="rgb(185,185,185)"/>
<rect x="348.2" y="236.3" width="1.4" height="1.0" fill="rgb(90,90,90)"/>
<rect x="374.6" y="220.1" width="1.5" height="1.1" fill="rgb(75,75,75)"/>
<rect x="444.7" y="233.9" width="1.7" height="1.0" fill="rgb(140,140,140)"/>
<rect x="461.3" y="232.0" width="1.4" height="0.8" fill="rgb(160,160,160)"/>
<rect x="425.0" y="229.7" width="1.2" height="1.0" fill="rgb(120,120,120)"/>
<rect x="390.8" y="219.7" width="1.1" height="0.8" fill="rgb(210,210,210)"/>
<rect x="391.9" y="216.5" width="1.6" height="1.1" fill="rgb(90,90,90)"/>
<rect x="380.6" y="225.3" width="1.6" height="1.1" fill="rgb(185,185,185)"/>
<rect x="403.0" y="225.5" width="1.3" height="0.6" fill="rgb(55,55,55)"/>
<rect x="430.1" y="239.0" width="1.0" height="1.1" fill="rgb(120,120,120)"/>
<rect x="378.4" y="234.1" width="1.8" height="0.8" fill="rgb(75,75,75)"/>
<rect x="459.3" y="225.0" width="1.5" height="0.6" fill="rgb(65,65,65)"/>
<rect x="379.1" y="211.6" width="1.6" height="0.8" fill="rgb(90,90,90)"/>
<rect x="403.3" y="220.9" width="1.1" height="0.5" fill="rgb(65,65,65)"/>
<rect x="401.1" y="239.5" width="1.0" height="1.1" fill="rgb(90,90,90)"/>
<rect x="427.7" y="226.7" width="1.4" height="0.6" fill="rgb(120,120,120)"/>
<rect x="461.1" y="234.4" width="1.2" height="0.8" fill="rgb(65,65,65)"/>
<rect x="462.5" y="227.0" width="1.4" height="0.9" fill="rgb(140,140,140)"/>
<rect x="406.6" y="233.3" width="1.2" height="1.0" fill="rgb(160,160,160)"/>
<rect x="408.5" y="216.7" width="1.0" height="1.2" fill="rgb(140,140,140)"/>
<rect x="435.7" y="226.1" width="1.3" height="1.1" fill="rgb(160,160,160)"/>
<rect x="454.0" y="224.2" width="1.8" height="1.0" fill="rgb(210,210,210)"/>
<rect x="353.0" y="223.0" width="1.5" height="0.9" fill="rgb(105,105,105)"/>
<rect x="349.9" y="239.0" width="1.5" height="0.7" fill="rgb(105,105,105)"/>
<rect x="384.4" y="228.4" width="1.4" height="0.6" fill="rgb(140,140,140)"/>
<rect x="397.1" y="226.3" width="1.7" height="0.7" fill="rgb(55,55,55)"/>
<rect x="345.0" y="237.4" width="1.1" height="0.7" fill="rgb(90,90,90)"/>
<rect x="434.0" y="218.6" width="0.8" height="0.9" fill="rgb(160,160,160)"/>
<rect x="419.1" y="219.8" width="0.9" height="1.0" fill="rgb(120,120,120)"/>
<rect x="426.0" y="221.8" width="1.6" height="1.0" fill="rgb(90,90,90)"/>
<rect x="386.6" y="222.8" width="0.9" height="0.9" fill="rgb(185,185,185)"/>
<rect x="353.3" y="226.4" width="1.7" height="1.0" fill="rgb(75,75,75)"/>
<rect x="454.7" y="230.9" width="0.7" height="0.7" fill="rgb(210,210,210)"/>
<rect x="404.5" y="240.5" width="1.4" height="1.1" fill="rgb(160,160,160)"/>
<rect x="419.4" y="237.6" width="0.8" height="1.0" fill="rgb(120,120,120)"/>
<rect x="421.5" y="215.4" width="1.7" height="1.0" fill="rgb(185,185,185)"/>
<rect x="410.4" y="236.0" width="1.0" height="1.1" fill="rgb(185,185,185)"/>
<rect x="357.5" y="218.7" width="1.0" height="0.7" fill="rgb(90,90,90)"/>
<rect x="376.6" y="230.0" width="1.7" height="1.1" fill="rgb(120,120,120)"/>
<rect x="422.8" y="237.4" width="0.8" height="0.9" fill="rgb(160,160,160)"/>
<rect x="370.6" y="231.5" width="1.6" height="0.9" fill="rgb(55,55,55)"/>
<rect x="306.5" y="231.7" width="1.4" height="0.9" fill="rgb(185,185,185)"/>
<rect x="319.2" y="227.4" width="1.7" height="1.0" fill="rgb(90,90,90)"/>
<rect x="471.7" y="233.6" width="1.5" height="0.7" fill="rgb(90,90,90)"/>
<rect x="478.4" y="231.6" width="1.8" height="0.6" fill="rgb(65,65,65)"/>
<rect x="353.8" y="239.0" width="1.4" height="1.0" fill="rgb(90,90,90)"/>
<rect x="362.7" y="235.5" width="1.0" height="0.7" fill="rgb(55,55,55)"/>
<rect x="419.9" y="234.6" width="1.7" height="0.7" fill="rgb(140,140,140)"/>
<rect x="403.4" y="212.4" width="0.8" height="0.5" fill="rgb(105,105,105)"/>
<rect x="439.5" y="231.9" width="1.2" height="0.8" fill="rgb(90,90,90)"/>
<rect x="340.2" y="234.1" width="1.7" height="0.8" fill="rgb(90,90,90)"/>
<rect x="455.8" y="233.5" width="1.4" height="0.7" fill="rgb(55,55,55)"/>
<rect x="367.2" y="223.6" width="1.1" height="0.8" fill="rgb(65,65,65)"/>
<rect x="464.2" y="232.9" width="1.0" height="0.7" fill="rgb(140,140,140)"/>
<rect x="418.9" y="214.1" width="1.7" height="0.6" fill="rgb(120,120,120)"/>
<rect x="416.6" y="218.6" width="1.0" height="1.0" fill="rgb(105,105,105)"/>
<rect x="443.2" y="237.8" width="1.4" height="1.1" fill="rgb(75,75,75)"/>
<rect x="368.3" y="237.1" width="1.7" height="0.9" fill="rgb(210,210,210)"/>
<rect x="454.4" y="235.9" width="0.9" height="0.8" fill="rgb(210,210,210)"/>
<rect x="398.5" y="212.8" width="1.2" height="0.9" fill="rgb(55,55,55)"/>
<rect x="363.0" y="218.8" width="1.0" height="0.8" fill="rgb(55,55,55)"/>
<rect x="424.8" y="215.3" width="0.9" height="0.9" fill="rgb(105,105,105)"/>
<rect x="350.6" y="219.1" width="1.2" height="1.1" fill="rgb(65,65,65)"/>
<rect x="378.0" y="227.9" width="1.0" height="0.9" fill="rgb(140,140,140)"/>
<rect x="393.3" y="234.2" width="0.8" height="0.9" fill="rgb(90,90,90)"/>
<rect x="423.1" y="225.6" width="1.3" height="0.6" fill="rgb(75,75,75)"/>
<rect x="420.7" y="222.8" width="1.1" height="1.2" fill="rgb(55,55,55)"/>
<rect x="376.5" y="243.8" width="0.8" height="1.0" fill="rgb(65,65,65)"/>
<rect x="380.6" y="211.4" width="0.9" height="0.5" fill="rgb(210,210,210)"/>
<rect x="391.9" y="212.6" width="1.5" height="1.1" fill="rgb(210,210,210)"/>
<rect x="415.9" y="223.3" width="1.3" height="0.9" fill="rgb(140,140,140)"/>
<rect x="441.2" y="234.8" width="0.9" height="0.8" fill="rgb(160,160,160)"/>
<rect x="457.0" y="228.2" width="0.9" height="0.7" fill="rgb(185,185,185)"/>
<rect x="393.4" y="222.8" width="1.5" height="1.2" fill="rgb(120,120,120)"/>
<rect x="376.5" y="229.3" width="1.1" height="1.1" fill="rgb(105,105,105)"/>
<rect x="382.2" y="224.5" width="1.6" height="0.6" fill="rgb(160,160,160)"/>
<rect x="399.5" y="211.3" width="1.5" height="0.8" fill="rgb(90,90,90)"/>
<rect x="343.9" y="223.2" width="1.5" height="0.5" fill="rgb(90,90,90)"/>
<rect x="399.0" y="213.8" width="1.2" height="0.9" fill="rgb(120,120,120)"/>
<rect x="379.4" y="246.6" width="1.6" height="1.1" fill="rgb(90,90,90)"/>
<rect x="368.8" y="241.1" width="1.7" height="1.2" fill="rgb(140,140,140)"/>
<rect x="409.5" y="221.1" width="1.7" height="1.1" fill="rgb(140,140,140)"/>
<rect x="396.0" y="221.0" width="1.4" height="0.7" fill="rgb(75,75,75)"/>
<rect x="382.6" y="215.7" width="0.9" height="1.2" fill="rgb(65,65,65)"/>
<rect x="406.9" y="212.7" width="1.4" height="0.9" fill="rgb(185,185,185)"/>
<rect x="440.3" y="233.8" width="1.1" height="1.0" fill="rgb(140,140,140)"/>
<rect x="360.0" y="225.1" width="1.1" height="0.7" fill="rgb(105,105,105)"/>
<rect x="380.1" y="215.9" width="1.7" height="1.1" fill="rgb(105,105,105)"/>
<rect x="399.6" y="241.3" width="0.9" height="0.6" fill="rgb(160,160,160)"/>
<rect x="376.0" y="233.3" width="1.1" height="0.9" fill="rgb(120,120,120)"/>
<rect x="410.3" y="240.3" width="0.8" height="0.7" fill="rgb(210,210,210)"/>
<rect x="411.8" y="214.8" width="1.3" height="0.6" fill="rgb(65,65,65)"/>
<rect x="409.2" y="220.2" width="1.3" height="1.1" fill="rgb(120,120,120)"/>
<rect x="415.1" y="227.8" width="1.4" height="0.6" fill="rgb(120,120,120)"/>
<rect x="391.6" y="225.2" width="1.5" height="1.1" fill="rgb(185,185,185)"/>
<rect x="407.4" y="243.1" width="0.8" height="0.6" fill="rgb(160,160,160)"/>
<rect x="373.1" y="227.5" width="1.3" height="0.9" fill="rgb(210,210,210)"/>
<rect x="407.8" y="211.6" width="1.6" height="0.5" fill="rgb(120,120,120)"/>
<rect x="395.2" y="211.1" width="0.8" height="0.7" fill="rgb(90,90,90)"/>
<rect x="440.1" y="233.0" width="1.2" height="0.9" fill="rgb(75,75,75)"/>
<rect x="392.2" y="232.6" width="1.8" height="0.6" fill="rgb(55,55,55)"/>
<rect x="416.2" y="234.6" width="1.6" height="1.2" fill="rgb(160,160,160)"/>
<rect x="380.2" y="212.6" width="0.8" height="0.7" fill="rgb(120,120,120)"/>
<rect x="455.9" y="230.7" width="1.2" height="0.8" fill="rgb(120,120,120)"/>
<rect x="379.0" y="223.3" width="1.3" height="1.2" fill="rgb(160,160,160)"/>
<rect x="390.7" y="231.8" width="1.3" height="1.1" fill="rgb(55,55,55)"/>
<rect x="419.7" y="216.9" width="0.7" height="0.7" fill="rgb(120,120,120)"/>
<rect x="403.8" y="243.9" width="1.1" height="0.6" fill="rgb(140,140,140)"/>
<rect x="353.3" y="226.5" width="1.5" height="1.1" fill="rgb(75,75,75)"/>
<rect x="348.0" y="240.8" width="0.7" height="0.8" fill="rgb(105,105,105)"/>
<rect x="377.2" y="246.8" width="1.6" height="1.0" fill="rgb(65,65,65)"/>
<rect x="459.7" y="229.4" width="1.0" height="1.1" fill="rgb(55,55,55)"/>
<rect x="447.7" y="224.5" width="1.4" height="1.1" fill="rgb(65,65,65)"/>
<rect x="432.4" y="222.0" width="1.2" height="1.0" fill="rgb(90,90,90)"/>
<rect x="471.8" y="230.7" width="0.7" height="1.0" fill="rgb(120,120,120)"/>
<rect x="352.1" y="228.6" width="1.4" height="0.5" fill="rgb(105,105,105)"/>
<rect x="404.8" y="239.3" width="1.1" height="0.8" fill="rgb(55,55,55)"/>
<rect x="390.7" y="208.1" width="1.1" height="1.1" fill="rgb(65,65,65)"/>
<rect x="362.4" y="218.9" width="1.4" height="0.8" fill="rgb(75,75,75)"/>
<rect x="392.3" y="232.5" width="1.3" height="1.2" fill="rgb(185,185,185)"/>
<rect x="451.8" y="230.6" width="1.7" height="0.5" fill="rgb(185,185,185)"/>
<rect x="380.4" y="223.5" width="0.9" height="0.9" fill="rgb(210,210,210)"/>
<rect x="383.3" y="239.4" width="1.6" height="0.8" fill="rgb(105,105,105)"/>
<rect x="360.9" y="237.5" width="1.2" height="0.8" fill="rgb(65,65,65)"/>
<rect x="472.9" y="232.9" width="0.8" height="0.8" fill="rgb(185,185,185)"/>
<rect x="401.7" y="223.8" width="0.8" height="0.8" fill="rgb(160,160,160)"/>
<rect x="351.7" y="225.1" width="0.8" height="0.7" fill="rgb(140,140,140)"/>
<rect x="458.0" y="230.3" width="0.9" height="1.1" fill="rgb(90,90,90)"/>
<rect x="381.9" y="238.0" width="1.0" height="0.5" fill="rgb(105,105,105)"/>
<rect x="379.9" y="239.9" width="1.5" height="1.2" fill="rgb(185,185,185)"/>
<rect x="406.3" y="237.8" width="0.9" height="1.2" fill="rgb(75,75,75)"/>
<rect x="399.0" y="210.3" width="0.7" height="0.5" fill="rgb(55,55,55)"/>
<rect x="432.3" y="228.5" width="1.8" height="0.8" fill="rgb(210,210,210)"/>
<rect x="421.1" y="236.3" width="1.1" height="0.9" fill="rgb(140,140,140)"/>
<rect x="377.8" y="216.0" width="1.2" height="1.1" fill="rgb(160,160,160)"/>
<rect x="404.0" y="212.9" width="1.4" height="1.0" fill="rgb(55,55,55)"/>
<rect x="413.8" y="222.3" width="1.6" height="0.9" fill="rgb(55,55,55)"/>
<rect x="451.0" y="227.3" width="1.4" height="0.9" fill="rgb(55,55,55)"/>
<rect x="414.9" y="221.2" width="1.8" height="0.9" fill="rgb(160,160,160)"/>
<rect x="405.4" y="225.6" width="1.1" height="1.2" fill="rgb(55,55,55)"/>
<rect x="383.2" y="230.1" width="1.5" height="0.8" fill="rgb(105,105,105)"/>
<rect x="366.8" y="246.3" width="0.8" height="0.7" fill="rgb(210,210,210)"/>
<rect x="392.6" y="234.1" width="0.8" height="0.8" fill="rgb(210,210,210)"/>
<rect x="378.1" y="223.9" width="1.3" height="0.7" fill="rgb(120,120,120)"/>
<rect x="402.1" y="210.3" width="1.3" height="1.0" fill="rgb(65,65,65)"/>
<rect x="384.6" y="226.7" width="0.7" height="0.9" fill="rgb(105,105,105)"/>
<rect x="426.4" y="221.5" width="0.8" height="0.9" fill="rgb(210,210,210)"/>
<rect x="423.7" y="219.9" width="1.5" height="0.8" fill="rgb(65,65,65)"/>
<rect x="384.2" y="225.5" width="1.3" height="1.1" fill="rgb(120,120,120)"/>
<rect x="371.4" y="227.4" width="1.4" height="1.1" fill="rgb(120,120,120)"/>
<rect x="431.6" y="217.8" width="1.3" height="0.8" fill="rgb(75,75,75)"/>
<rect x="384.0" y="243.1" width="0.8" height="0.7" fill="rgb(90,90,90)"/>
<rect x="377.8" y="247.9" width="1.7" height="0.9" fill="rgb(100,100,100)"/>
<rect x="378.3" y="248.3" width="1.0" height="0.9" fill="rgb(225,225,225)"/>
<rect x="384.3" y="246.4" width="1.0" height="0.9" fill="rgb(100,100,100)"/>
<rect x="417.8" y="242.5" width="1.2" height="0.9" fill="rgb(205,205,205)"/>
<rect x="400.5" y="244.9" width="1.0" height="0.9" fill="rgb(185,185,185)"/>
<rect x="395.7" y="245.1" width="1.8" height="0.9" fill="rgb(205,205,205)"/>
<rect x="329.2" y="236.3" width="0.9" height="0.9" fill="rgb(205,205,205)"/>
<rect x="479.6" y="228.3" width="1.8" height="0.9" fill="rgb(185,185,185)"/>
<rect x="437.0" y="238.2" width="0.9" height="0.9" fill="rgb(185,185,185)"/>
<rect x="464.6" y="232.5" width="1.8" height="0.9" fill="rgb(100,100,100)"/>
<rect x="402.1" y="241.0" width="0.9" height="0.9" fill="rgb(205,205,205)"/>
<rect x="376.2" y="246.8" width="1.3" height="0.9" fill="rgb(225,225,225)"/>
<rect x="477.0" y="228.9" width="1.1" height="0.9" fill="rgb(130,130,130)"/>
<rect x="396.0" y="244.3" width="1.8" height="0.9" fill="rgb(185,185,185)"/>
<rect x="406.0" y="240.9" width="1.6" height="0.9" fill="rgb(160,160,160)"/>
<rect x="473.6" y="231.8" width="1.4" height="0.9" fill="rgb(205,205,205)"/>
<rect x="485.6" y="228.5" width="0.9" height="0.9" fill="rgb(205,205,205)"/>
<rect x="334.5" y="239.2" width="1.6" height="0.9" fill="rgb(100,100,100)"/>
<rect x="326.6" y="238.9" width="1.3" height="0.9" fill="rgb(185,185,185)"/>
<rect x="438.0" y="238.5" width="1.5" height="0.9" fill="rgb(185,185,185)"/>
<rect x="388.6" y="244.8" width="0.9" height="0.9" fill="rgb(100,100,100)"/>
<rect x="467.3" y="230.4" width="1.5" height="0.9" fill="rgb(205,205,205)"/>
<rect x="466.7" y="231.6" width="1.4" height="0.9" fill="rgb(225,225,225)"/>
<rect x="332.4" y="239.2" width="1.6" height="0.9" fill="rgb(100,100,100)"/>
<rect x="480.6" y="230.7" width="1.0" height="0.9" fill="rgb(100,100,100)"/>
<rect x="412.3" y="241.3" width="1.0" height="0.9" fill="rgb(185,185,185)"/>
<rect x="361.5" y="247.4" width="1.1" height="0.9" fill="rgb(205,205,205)"/>
<rect x="300.3" y="230.9" width="1.4" height="0.9" fill="rgb(225,225,225)"/>
<rect x="406.0" y="243.5" width="1.0" height="0.9" fill="rgb(225,225,225)"/>
<rect x="332.8" y="238.4" width="1.1" height="0.9" fill="rgb(100,100,100)"/>
<rect x="341.5" y="242.3" width="1.4" height="0.9" fill="rgb(100,100,100)"/>
<rect x="449.6" y="235.1" width="1.2" height="0.9" fill="rgb(130,130,130)"/>
<rect x="479.3" y="228.5" width="1.4" height="0.9" fill="rgb(130,130,130)"/>
<rect x="479.6" y="229.5" width="0.9" height="0.9" fill="rgb(160,160,160)"/>
<rect x="337.6" y="237.7" width="1.7" height="0.9" fill="rgb(185,185,185)"/>
<rect x="348.0" y="244.2" width="0.9" height="0.9" fill="rgb(160,160,160)"/>
<rect x="388.5" y="246.3" width="1.6" height="0.9" fill="rgb(205,205,205)"/>
<rect x="336.9" y="239.3" width="1.7" height="0.9" fill="rgb(160,160,160)"/>
<rect x="368.2" y="246.7" width="1.7" height="0.9" fill="rgb(205,205,205)"/>
<rect x="426.7" y="238.4" width="1.0" height="0.9" fill="rgb(225,225,225)"/>
<rect x="382.1" y="247.9" width="1.5" height="0.9" fill="rgb(225,225,225)"/>
<rect x="463.7" y="232.7" width="1.1" height="0.9" fill="rgb(130,130,130)"/>
<rect x="425.9" y="240.2" width="0.9" height="0.9" fill="rgb(225,225,225)"/>
<rect x="366.9" y="247.6" width="1.1" height="0.9" fill="rgb(130,130,130)"/>
<rect x="415.5" y="239.9" width="1.3" height="0.9" fill="rgb(225,225,225)"/>
<rect x="330.0" y="239.4" width="0.9" height="0.9" fill="rgb(185,185,185)"/>
<rect x="375.0" y="246.8" width="1.0" height="0.9" fill="rgb(205,205,205)"/>
<rect x="460.4" y="233.2" width="1.5" height="0.9" fill="rgb(225,225,225)"/>
<rect x="414.2" y="242.0" width="1.3" height="0.9" fill="rgb(225,225,225)"/>
<rect x="378.7" y="246.2" width="1.0" height="0.9" fill="rgb(225,225,225)"/>
<rect x="329.4" y="239.2" width="1.0" height="0.9" fill="rgb(130,130,130)"/>
<rect x="347.3" y="242.0" width="0.9" height="0.9" fill="rgb(160,160,160)"/>
<rect x="360.4" y="243.1" width="0.9" height="0.9" fill="rgb(185,185,185)"/>
<rect x="462.5" y="231.3" width="1.2" height="0.9" fill="rgb(160,160,160)"/>
<rect x="361.4" y="245.2" width="1.6" height="0.9" fill="rgb(185,185,185)"/>
<rect x="373.4" y="248.3" width="1.8" height="0.9" fill="rgb(130,130,130)"/>
<rect x="337.2" y="239.5" width="0.8" height="0.9" fill="rgb(205,205,205)"/>
<rect x="446.9" y="236.4" width="1.2" height="0.9" fill="rgb(130,130,130)"/>
<rect x="474.3" y="230.2" width="1.6" height="0.9" fill="rgb(225,225,225)"/>
<rect x="355.5" y="242.0" width="1.5" height="0.9" fill="rgb(205,205,205)"/>
<rect x="414.1" y="239.0" width="1.5" height="0.9" fill="rgb(185,185,185)"/>
<rect x="402.2" y="244.1" width="1.2" height="0.9" fill="rgb(185,185,185)"/>
<rect x="321.4" y="236.3" width="1.7" height="0.9" fill="rgb(130,130,130)"/>
<rect x="350.0" y="240.7" width="1.3" height="0.9" fill="rgb(100,100,100)"/>
<rect x="472.6" y="229.1" width="1.7" height="0.9" fill="rgb(130,130,130)"/>
<rect x="385.0" y="244.1" width="0.8" height="0.9" fill="rgb(160,160,160)"/>
<rect x="483.4" y="227.7" width="0.9" height="0.9" fill="rgb(205,205,205)"/>
<rect x="376.9" y="247.5" width="1.3" height="0.9" fill="rgb(160,160,160)"/>
<rect x="385.5" y="246.0" width="1.0" height="0.9" fill="rgb(130,130,130)"/>
<rect x="458.8" y="234.5" width="0.9" height="0.9" fill="rgb(100,100,100)"/>
<rect x="345.1" y="240.7" width="1.1" height="0.9" fill="rgb(205,205,205)"/>
<rect x="362.4" y="246.7" width="1.3" height="0.9" fill="rgb(185,185,185)"/>
<rect x="329.2" y="239.5" width="1.8" height="0.9" fill="rgb(225,225,225)"/>
<rect x="360.1" y="247.0" width="1.0" height="0.9" fill="rgb(100,100,100)"/>
<rect x="403.0" y="243.2" width="1.3" height="0.9" fill="rgb(130,130,130)"/>
<rect x="471.4" y="232.4" width="1.3" height="0.9" fill="rgb(225,225,225)"/>
<rect x="453.1" y="233.2" width="0.8" height="0.9" fill="rgb(130,130,130)"/>
<rect x="465.7" y="234.0" width="1.0" height="0.9" fill="rgb(130,130,130)"/>
<rect x="333.8" y="237.0" width="1.7" height="0.9" fill="rgb(185,185,185)"/>
<rect x="456.6" y="234.8" width="1.3" height="0.9" fill="rgb(100,100,100)"/>
<rect x="478.1" y="230.9" width="1.6" height="0.9" fill="rgb(205,205,205)"/>
<rect x="359.2" y="245.5" width="1.1" height="0.9" fill="rgb(185,185,185)"/>
<rect x="467.5" y="231.6" width="0.8" height="0.9" fill="rgb(185,185,185)"/>
<rect x="409.4" y="241.0" width="1.2" height="0.9" fill="rgb(205,205,205)"/>
<rect x="462.3" y="234.5" width="1.4" height="0.9" fill="rgb(185,185,185)"/>
<rect x="459.1" y="233.0" width="1.5" height="0.9" fill="rgb(100,100,100)"/>
<rect x="390.8" y="246.7" width="1.6" height="0.9" fill="rgb(130,130,130)"/>
<rect x="350.7" y="242.6" width="1.2" height="0.9" fill="rgb(160,160,160)"/>
<rect x="374.4" y="247.2" width="1.3" height="0.9" fill="rgb(100,100,100)"/>
<rect x="426.4" y="241.0" width="1.6" height="0.9" fill="rgb(205,205,205)"/>
<rect x="399.7" y="242.3" width="1.0" height="0.9" fill="rgb(205,205,205)"/>
<rect x="330.3" y="236.9" width="1.3" height="0.9" fill="rgb(160,160,160)"/>
<rect x="440.9" y="235.9" width="1.4" height="0.9" fill="rgb(205,205,205)"/>
<rect x="427.6" y="237.4" width="1.7" height="0.9" fill="rgb(160,160,160)"/>
<rect x="485.4" y="227.7" width="1.7" height="0.9" fill="rgb(225,225,225)"/>
<rect x="433.2" y="239.6" width="1.0" height="0.9" fill="rgb(160,160,160)"/>
<rect x="442.8" y="235.7" width="1.7" height="0.9" fill="rgb(185,185,185)"/>
<rect x="392.6" y="246.8" width="1.1" height="0.9" fill="rgb(130,130,130)"/>
<rect x="408.8" y="242.3" width="1.7" height="0.9" fill="rgb(225,225,225)"/>
<rect x="375.4" y="246.0" width="1.8" height="0.9" fill="rgb(205,205,205)"/>
<rect x="424.1" y="238.7" width="1.0" height="0.9" fill="rgb(160,160,160)"/>
<rect x="447.4" y="234.2" width="1.7" height="0.9" fill="rgb(100,100,100)"/>
<rect x="483.9" y="230.1" width="1.5" height="0.9" fill="rgb(100,100,100)"/>
<rect x="390.7" y="245.7" width="1.5" height="0.9" fill="rgb(225,225,225)"/>
<rect x="466.9" y="233.4" width="1.7" height="0.9" fill="rgb(205,205,205)"/>
<rect x="351.2" y="243.7" width="1.1" height="0.9" fill="rgb(225,225,225)"/>
<rect x="343.2" y="242.1" width="1.8" height="0.9" fill="rgb(100,100,100)"/>
<rect x="441.6" y="236.0" width="1.7" height="0.9" fill="rgb(185,185,185)"/>
<rect x="455.4" y="232.4" width="1.3" height="0.9" fill="rgb(130,130,130)"/>
<rect x="350.6" y="241.3" width="1.5" height="0.9" fill="rgb(160,160,160)"/>
<rect x="378.3" y="247.3" width="1.7" height="0.9" fill="rgb(130,130,130)"/>
<rect x="330.0" y="237.6" width="1.1" height="0.9" fill="rgb(160,160,160)"/>
<rect x="426.6" y="239.5" width="1.2" height="0.9" fill="rgb(205,205,205)"/>
<rect x="350.5" y="243.3" width="1.3" height="0.9" fill="rgb(225,225,225)"/>
<rect x="457.1" y="232.0" width="1.2" height="0.9" fill="rgb(205,205,205)"/>
<rect x="410.3" y="239.7" width="1.6" height="0.9" fill="rgb(225,225,225)"/>
<rect x="400.8" y="242.6" width="0.9" height="0.9" fill="rgb(130,130,130)"/>
<rect x="391.0" y="245.9" width="1.1" height="0.9" fill="rgb(160,160,160)"/>
<rect x="393.1" y="245.9" width="1.5" height="0.9" fill="rgb(100,100,100)"/>
<rect x="468.9" y="229.9" width="1.0" height="0.9" fill="rgb(185,185,185)"/>
<rect x="324.7" y="236.5" width="1.4" height="0.9" fill="rgb(185,185,185)"/>
<rect x="373.9" y="249.7" width="0.8" height="0.9" fill="rgb(185,185,185)"/>
<rect x="348.4" y="244.1" width="1.1" height="0.9" fill="rgb(225,225,225)"/>
<rect x="345.1" y="241.2" width="1.2" height="0.9" fill="rgb(225,225,225)"/>
<rect x="308.0" y="233.4" width="0.9" height="0.9" fill="rgb(130,130,130)"/>
<rect x="457.5" y="231.9" width="1.4" height="0.9" fill="rgb(160,160,160)"/>
<rect x="461.9" y="232.0" width="1.4" height="0.9" fill="rgb(100,100,100)"/>
<rect x="339.7" y="241.4" width="1.1" height="0.9" fill="rgb(185,185,185)"/>
<rect x="351.4" y="244.7" width="1.3" height="0.9" fill="rgb(225,225,225)"/>
<rect x="433.8" y="239.1" width="1.6" height="0.9" fill="rgb(185,185,185)"/>
<rect x="430.7" y="238.8" width="1.5" height="0.9" fill="rgb(100,100,100)"/>
<rect x="286.8" y="227.2" width="1.3" height="0.9" fill="rgb(205,205,205)"/>
<rect x="297.5" y="228.5" width="1.3" height="0.9" fill="rgb(185,185,185)"/>
<rect x="456.5" y="233.9" width="1.7" height="0.9" fill="rgb(130,130,130)"/>
<rect x="425.1" y="239.1" width="1.1" height="0.9" fill="rgb(100,100,100)"/>
<rect x="385.9" y="246.0" width="1.0" height="0.9" fill="rgb(160,160,160)"/>
<rect x="409.0" y="242.6" width="0.8" height="0.9" fill="rgb(185,185,185)"/>
<rect x="289.1" y="226.8" width="1.8" height="0.9" fill="rgb(205,205,205)"/>
<rect x="378.6" y="245.6" width="1.2" height="0.9" fill="rgb(205,205,205)"/>
<rect x="442.7" y="235.5" width="1.2" height="0.9" fill="rgb(160,160,160)"/>
<rect x="450.0" y="235.0" width="1.3" height="0.9" fill="rgb(130,130,130)"/>
<rect x="391.9" y="242.8" width="1.1" height="0.9" fill="rgb(205,205,205)"/>
<rect x="431.6" y="237.0" width="1.2" height="0.9" fill="rgb(185,185,185)"/>
<rect x="351.1" y="243.1" width="1.7" height="0.9" fill="rgb(160,160,160)"/>
<rect x="346.3" y="243.6" width="1.5" height="0.9" fill="rgb(205,205,205)"/>
<rect x="382.0" y="244.8" width="1.6" height="0.9" fill="rgb(205,205,205)"/>
<rect x="309.4" y="233.9" width="1.3" height="0.9" fill="rgb(185,185,185)"/>
<rect x="377.4" y="246.0" width="1.7" height="0.9" fill="rgb(225,225,225)"/>
<rect x="326.0" y="235.5" width="1.3" height="0.9" fill="rgb(130,130,130)"/>
<rect x="343.2" y="239.2" width="1.7" height="0.9" fill="rgb(185,185,185)"/>
<rect x="482.9" y="228.0" width="1.1" height="0.9" fill="rgb(100,100,100)"/>
<rect x="382.8" y="248.3" width="1.5" height="0.9" fill="rgb(130,130,130)"/>
<rect x="393.0" y="244.2" width="1.6" height="0.9" fill="rgb(225,225,225)"/>
<rect x="485.6" y="228.6" width="0.8" height="0.9" fill="rgb(225,225,225)"/>
<rect x="420.1" y="239.5" width="1.1" height="0.9" fill="rgb(130,130,130)"/>
<rect x="460.7" y="233.6" width="1.2" height="0.9" fill="rgb(130,130,130)"/>
<rect x="427.8" y="236.9" width="1.5" height="0.9" fill="rgb(100,100,100)"/>
<rect x="391.1" y="246.8" width="1.7" height="0.9" fill="rgb(160,160,160)"/>
<rect x="334.2" y="238.0" width="1.4" height="0.9" fill="rgb(225,225,225)"/>
<rect x="469.6" y="231.7" width="1.3" height="0.9" fill="rgb(100,100,100)"/>
<rect x="423.9" y="238.2" width="1.2" height="0.9" fill="rgb(205,205,205)"/>
<rect x="388.9" y="245.4" width="1.6" height="0.9" fill="rgb(160,160,160)"/>
<rect x="406.9" y="240.5" width="1.4" height="0.9" fill="rgb(225,225,225)"/>
<rect x="455.5" y="235.4" width="1.5" height="0.9" fill="rgb(225,225,225)"/>
<rect x="482.1" y="227.5" width="1.1" height="0.9" fill="rgb(225,225,225)"/>
<rect x="382.4" y="244.7" width="1.6" height="0.9" fill="rgb(225,225,225)"/>
<rect x="468.3" y="233.6" width="1.8" height="0.9" fill="rgb(160,160,160)"/>
<rect x="375.7" y="246.1" width="0.8" height="0.9" fill="rgb(225,225,225)"/>
<rect x="324.0" y="238.6" width="1.4" height="0.9" fill="rgb(205,205,205)"/>
<rect x="434.6" y="237.6" width="1.3" height="0.9" fill="rgb(185,185,185)"/>
<rect x="326.8" y="236.9" width="1.8" height="0.9" fill="rgb(225,225,225)"/>
<rect x="395.0" y="244.9" width="1.7" height="0.9" fill="rgb(130,130,130)"/>
<rect x="328.9" y="237.2" width="1.7" height="0.9" fill="rgb(205,205,205)"/>
<rect x="485.4" y="229.5" width="1.2" height="0.9" fill="rgb(160,160,160)"/>
<rect x="388.7" y="243.7" width="1.5" height="0.9" fill="rgb(225,225,225)"/>
<rect x="417.1" y="239.3" width="1.3" height="0.9" fill="rgb(205,205,205)"/>
<rect x="415.7" y="241.9" width="1.7" height="0.9" fill="rgb(185,185,185)"/>
<rect x="310.3" y="233.9" width="1.3" height="0.9" fill="rgb(130,130,130)"/>
<rect x="370.2" y="247.5" width="1.1" height="0.9" fill="rgb(225,225,225)"/>
<rect x="481.4" y="231.3" width="0.9" height="0.9" fill="rgb(205,205,205)"/>
<rect x="480.4" y="229.6" width="1.1" height="0.9" fill="rgb(100,100,100)"/>
<rect x="427.3" y="238.4" width="0.9" height="0.9" fill="rgb(205,205,205)"/>
<rect x="322.3" y="238.1" width="0.9" height="0.9" fill="rgb(100,100,100)"/>
<rect x="384.8" y="247.3" width="1.4" height="0.9" fill="rgb(205,205,205)"/>
<rect x="436.7" y="239.3" width="1.6" height="0.9" fill="rgb(185,185,185)"/>
<rect x="381.7" y="247.2" width="1.4" height="0.9" fill="rgb(205,205,205)"/>
<rect x="395.5" y="246.3" width="1.2" height="0.9" fill="rgb(205,205,205)"/>
<rect x="439.7" y="235.5" width="1.5" height="0.9" fill="rgb(185,185,185)"/>
<rect x="379.0" y="247.3" width="1.2" height="0.9" fill="rgb(130,130,130)"/>
<rect x="369.5" y="246.7" width="1.0" height="0.9" fill="rgb(185,185,185)"/>
<rect x="369.6" y="248.6" width="1.1" height="0.9" fill="rgb(205,205,205)"/>
<rect x="444.8" y="237.9" width="1.0" height="0.9" fill="rgb(130,130,130)"/>
<rect x="376.2" y="246.0" width="1.7" height="0.9" fill="rgb(225,225,225)"/>
<rect x="443.2" y="235.9" width="1.2" height="0.9" fill="rgb(130,130,130)"/>
<rect x="327.0" y="238.2" width="0.9" height="0.9" fill="rgb(185,185,185)"/>
<rect x="472.9" y="232.5" width="1.4" height="0.9" fill="rgb(205,205,205)"/>
<rect x="375.0" y="247.8" width="1.5" height="0.9" fill="rgb(130,130,130)"/>
<rect x="325.5" y="234.8" width="1.2" height="0.9" fill="rgb(185,185,185)"/>
<rect x="458.8" y="234.0" width="0.9" height="0.9" fill="rgb(225,225,225)"/>
<rect x="465.0" y="232.7" width="1.5" height="0.9" fill="rgb(160,160,160)"/>
<rect x="401.7" y="241.9" width="1.3" height="0.9" fill="rgb(205,205,205)"/>
<rect x="374.2" y="246.4" width="1.7" height="0.9" fill="rgb(225,225,225)"/>
<rect x="324.5" y="236.6" width="1.0" height="0.9" fill="rgb(130,130,130)"/>
<rect x="328.4" y="236.7" width="1.3" height="0.9" fill="rgb(225,225,225)"/>
<rect x="429.8" y="239.0" width="1.2" height="0.9" fill="rgb(225,225,225)"/>
<rect x="410.5" y="241.9" width="1.0" height="0.9" fill="rgb(205,205,205)"/>
<rect x="339.8" y="239.5" width="1.1" height="0.9" fill="rgb(185,185,185)"/>
<rect x="470.0" y="229.6" width="1.8" height="0.9" fill="rgb(100,100,100)"/>
<rect x="461.7" y="231.3" width="1.5" height="0.9" fill="rgb(130,130,130)"/>
<rect x="439.9" y="234.9" width="0.9" height="0.9" fill="rgb(100,100,100)"/>
<rect x="428.5" y="239.4" width="1.6" height="0.9" fill="rgb(130,130,130)"/>
<rect x="370.9" y="247.1" width="1.1" height="0.9" fill="rgb(225,225,225)"/>
<rect x="432.0" y="238.8" width="1.1" height="0.9" fill="rgb(130,130,130)"/>
<rect x="450.5" y="235.4" width="0.9" height="0.9" fill="rgb(100,100,100)"/>
<rect x="451.2" y="236.3" width="0.8" height="0.9" fill="rgb(205,205,205)"/>
<rect x="383.0" y="246.3" width="1.5" height="0.9" fill="rgb(205,205,205)"/>
<rect x="412.1" y="239.6" width="1.3" height="0.9" fill="rgb(100,100,100)"/>
<rect x="463.7" y="231.1" width="1.0" height="0.9" fill="rgb(205,205,205)"/>
<rect x="425.4" y="238.9" width="1.3" height="0.9" fill="rgb(225,225,225)"/>
<rect x="337.2" y="240.4" width="0.9" height="0.9" fill="rgb(225,225,225)"/>
<rect x="446.6" y="235.0" width="1.3" height="0.9" fill="rgb(130,130,130)"/>
<rect x="346.1" y="240.7" width="1.6" height="0.9" fill="rgb(205,205,205)"/>
<rect x="390.7" y="246.2" width="0.9" height="0.9" fill="rgb(130,130,130)"/>
<rect x="333.7" y="238.0" width="1.4" height="0.9" fill="rgb(160,160,160)"/>
<rect x="420.8" y="241.5" width="1.3" height="0.9" fill="rgb(130,130,130)"/>
<rect x="379.5" y="246.1" width="1.8" height="0.9" fill="rgb(100,100,100)"/>
<rect x="379.3" y="246.9" width="1.5" height="0.9" fill="rgb(185,185,185)"/>
<rect x="366.5" y="247.2" width="1.0" height="0.9" fill="rgb(130,130,130)"/>
<rect x="354.0" y="245.6" width="1.2" height="0.9" fill="rgb(160,160,160)"/>
<rect x="468.4" y="230.5" width="1.0" height="0.9" fill="rgb(185,185,185)"/>
<rect x="471.0" y="231.6" width="0.9" height="0.9" fill="rgb(160,160,160)"/>
<rect x="324.2" y="237.5" width="0.8" height="0.9" fill="rgb(160,160,160)"/>
<rect x="470.5" y="230.3" width="1.5" height="0.9" fill="rgb(130,130,130)"/>
<rect x="363.0" y="247.1" width="1.4" height="0.9" fill="rgb(160,160,160)"/>
<rect x="317.6" y="236.9" width="0.8" height="0.9" fill="rgb(100,100,100)"/>
<rect x="411.4" y="243.6" width="1.4" height="0.9" fill="rgb(160,160,160)"/>
<rect x="374.6" y="248.2" width="1.0" height="0.9" fill="rgb(100,100,100)"/>
<rect x="359.4" y="245.2" width="1.6" height="0.9" fill="rgb(130,130,130)"/>
<rect x="352.4" y="241.3" width="1.4" height="0.9" fill="rgb(205,205,205)"/>
<rect x="428.5" y="236.5" width="1.0" height="0.9" fill="rgb(205,205,205)"/>
<rect x="485.2" y="230.8" width="1.5" height="0.9" fill="rgb(130,130,130)"/>
<rect x="484.7" y="229.8" width="0.8" height="0.9" fill="rgb(225,225,225)"/>
<rect x="367.4" y="245.6" width="1.3" height="0.9" fill="rgb(205,205,205)"/>
<rect x="383.1" y="245.5" width="1.2" height="0.9" fill="rgb(100,100,100)"/>
<rect x="359.8" y="245.6" width="1.5" height="0.9" fill="rgb(160,160,160)"/>
<rect x="462.7" y="231.8" width="1.6" height="0.9" fill="rgb(185,185,185)"/>
<rect x="326.5" y="238.2" width="1.7" height="0.9" fill="rgb(160,160,160)"/>
<rect x="419.4" y="239.7" width="1.2" height="0.9" fill="rgb(205,205,205)"/>
<rect x="436.5" y="237.6" width="1.5" height="0.9" fill="rgb(160,160,160)"/>
<rect x="433.5" y="238.8" width="1.2" height="0.9" fill="rgb(130,130,130)"/>
<rect x="336.1" y="239.5" width="1.8" height="0.9" fill="rgb(225,225,225)"/>
<rect x="413.6" y="240.2" width="1.4" height="0.9" fill="rgb(205,205,205)"/>
<rect x="345.1" y="242.1" width="1.7" height="0.9" fill="rgb(130,130,130)"/>
<rect x="380.8" y="245.9" width="1.0" height="0.9" fill="rgb(130,130,130)"/>
<rect x="461.0" y="231.1" width="0.9" height="0.9" fill="rgb(100,100,100)"/>
<rect x="412.6" y="229.2" width="1.3" height="0.9" fill="rgb(150,150,150)"/>
<rect x="428.7" y="233.6" width="1.3" height="0.9" fill="rgb(230,230,230)"/>
<rect x="462.7" y="224.8" width="1.3" height="0.9" fill="rgb(150,150,150)"/>
<rect x="433.7" y="236.3" width="1.3" height="0.9" fill="rgb(180,180,180)"/>
<rect x="463.5" y="225.6" width="1.3" height="0.9" fill="rgb(180,180,180)"/>
<rect x="453.6" y="228.6" width="1.3" height="0.9" fill="rgb(180,180,180)"/>
<rect x="433.9" y="235.9" width="1.3" height="0.9" fill="rgb(230,230,230)"/>
<rect x="452.2" y="222.3" width="1.3" height="0.9" fill="rgb(150,150,150)"/>
<rect x="451.8" y="221.7" width="1.3" height="0.9" fill="rgb(150,150,150)"/>
<rect x="412.6" y="229.0" width="1.3" height="0.9" fill="rgb(205,205,205)"/>
<rect x="428.5" y="220.0" width="1.3" height="0.9" fill="rgb(205,205,205)"/>
<rect x="410.9" y="223.0" width="1.3" height="0.9" fill="rgb(230,230,230)"/>
<rect x="418.4" y="222.9" width="1.3" height="0.9" fill="rgb(180,180,180)"/>
<rect x="464.1" y="226.2" width="1.3" height="0.9" fill="rgb(230,230,230)"/>
<rect x="448.4" y="232.5" width="1.3" height="0.9" fill="rgb(205,205,205)"/>
<rect x="432.1" y="235.4" width="1.3" height="0.9" fill="rgb(205,205,205)"/>
<rect x="439.5" y="234.1" width="1.3" height="0.9" fill="rgb(205,205,205)"/>
<rect x="436.5" y="234.7" width="1.3" height="0.9" fill="rgb(150,150,150)"/>
<rect x="449.8" y="220.3" width="1.3" height="0.9" fill="rgb(180,180,180)"/>
<rect x="461.9" y="226.6" width="1.3" height="0.9" fill="rgb(205,205,205)"/>
<rect x="404.2" y="225.7" width="1.3" height="0.9" fill="rgb(230,230,230)"/>
<rect x="449.0" y="232.1" width="1.3" height="0.9" fill="rgb(150,150,150)"/>
<rect x="417.8" y="229.7" width="1.3" height="0.9" fill="rgb(205,205,205)"/>
<rect x="461.2" y="224.3" width="1.3" height="0.9" fill="rgb(230,230,230)"/>
<rect x="457.9" y="223.4" width="1.3" height="0.9" fill="rgb(150,150,150)"/>
<rect x="432.8" y="217.8" width="1.3" height="0.9" fill="rgb(230,230,230)"/>
<rect x="410.2" y="222.6" width="1.3" height="0.9" fill="rgb(180,180,180)"/>
<rect x="452.4" y="221.4" width="1.3" height="0.9" fill="rgb(180,180,180)"/>
<rect x="415.7" y="229.8" width="1.3" height="0.9" fill="rgb(205,205,205)"/>
<rect x="430.6" y="220.2" width="1.3" height="0.9" fill="rgb(150,150,150)"/>
<rect x="412.4" y="227.6" width="1.3" height="0.9" fill="rgb(150,150,150)"/>
<rect x="411.8" y="223.8" width="1.3" height="0.9" fill="rgb(205,205,205)"/>
<rect x="419.8" y="231.6" width="1.3" height="0.9" fill="rgb(150,150,150)"/>
<rect x="405.3" y="226.4" width="1.3" height="0.9" fill="rgb(150,150,150)"/>
<rect x="414.4" y="222.0" width="1.3" height="0.9" fill="rgb(180,180,180)"/>
<rect x="434.9" y="217.7" width="1.3" height="0.9" fill="rgb(230,230,230)"/>
<rect x="404.7" y="225.2" width="1.3" height="0.9" fill="rgb(150,150,150)"/>
<rect x="459.6" y="227.6" width="1.3" height="0.9" fill="rgb(180,180,180)"/>
<rect x="444.7" y="218.6" width="1.3" height="0.9" fill="rgb(180,180,180)"/>
<rect x="445.7" y="233.0" width="1.3" height="0.9" fill="rgb(180,180,180)"/>
<rect x="409.8" y="226.1" width="1.3" height="0.9" fill="rgb(230,230,230)"/>
<rect x="419.0" y="221.1" width="1.3" height="0.9" fill="rgb(150,150,150)"/>
<rect x="446.9" y="232.8" width="1.3" height="0.9" fill="rgb(150,150,150)"/>
<rect x="414.2" y="221.9" width="1.3" height="0.9" fill="rgb(230,230,230)"/>
<rect x="406.8" y="226.1" width="1.3" height="0.9" fill="rgb(205,205,205)"/>
<rect x="418.9" y="220.5" width="1.3" height="0.9" fill="rgb(180,180,180)"/>
<rect x="415.7" y="221.6" width="1.3" height="0.9" fill="rgb(150,150,150)"/>
<rect x="445.9" y="219.1" width="1.3" height="0.9" fill="rgb(230,230,230)"/>
<rect x="407.2" y="224.6" width="1.3" height="0.9" fill="rgb(205,205,205)"/>
<rect x="413.0" y="228.5" width="1.3" height="0.9" fill="rgb(150,150,150)"/>
<rect x="428.0" y="233.6" width="1.3" height="0.9" fill="rgb(230,230,230)"/>
<rect x="405.1" y="225.1" width="1.3" height="0.9" fill="rgb(230,230,230)"/>
<rect x="461.1" y="224.4" width="1.3" height="0.9" fill="rgb(180,180,180)"/>
<rect x="464.8" y="226.7" width="1.3" height="0.9" fill="rgb(205,205,205)"/>
<rect x="426.7" y="232.4" width="1.3" height="0.9" fill="rgb(180,180,180)"/>
<rect x="461.3" y="226.0" width="1.3" height="0.9" fill="rgb(230,230,230)"/>
<rect x="419.5" y="222.5" width="1.3" height="0.9" fill="rgb(150,150,150)"/>
<rect x="448.5" y="220.4" width="1.3" height="0.9" fill="rgb(230,230,230)"/>
<rect x="405.8" y="225.3" width="1.3" height="0.9" fill="rgb(150,150,150)"/>
<rect x="410.8" y="224.1" width="1.3" height="0.9" fill="rgb(180,180,180)"/>
<rect x="411.9" y="228.2" width="1.3" height="0.9" fill="rgb(205,205,205)"/>
<rect x="442.6" y="217.7" width="1.3" height="0.9" fill="rgb(230,230,230)"/>
<rect x="416.0" y="230.4" width="1.3" height="0.9" fill="rgb(150,150,150)"/>
<rect x="450.9" y="230.6" width="1.3" height="0.9" fill="rgb(230,230,230)"/>
<rect x="434.5" y="236.2" width="1.3" height="0.9" fill="rgb(205,205,205)"/>
<rect x="447.9" y="220.6" width="1.3" height="0.9" fill="rgb(150,150,150)"/>
<rect x="415.8" y="228.9" width="1.3" height="0.9" fill="rgb(180,180,180)"/>
<rect x="420.0" y="221.7" width="1.3" height="0.9" fill="rgb(205,205,205)"/>
<rect x="424.7" y="232.8" width="1.3" height="0.9" fill="rgb(230,230,230)"/>
<rect x="447.9" y="231.3" width="1.3" height="0.9" fill="rgb(230,230,230)"/>
<rect x="395.5" y="244.6" width="1.3" height="0.9" fill="rgb(150,150,150)"/>
<rect x="391.0" y="233.8" width="1.3" height="0.9" fill="rgb(150,150,150)"/>
<rect x="410.0" y="233.8" width="1.3" height="0.9" fill="rgb(230,230,230)"/>
<rect x="401.6" y="243.3" width="1.3" height="0.9" fill="rgb(230,230,230)"/>
<rect x="387.2" y="241.6" width="1.3" height="0.9" fill="rgb(150,150,150)"/>
<rect x="393.1" y="233.6" width="1.3" height="0.9" fill="rgb(230,230,230)"/>
<rect x="408.3" y="240.5" width="1.3" height="0.9" fill="rgb(205,205,205)"/>
<rect x="410.9" y="235.4" width="1.3" height="0.9" fill="rgb(230,230,230)"/>
<rect x="400.4" y="241.9" width="1.3" height="0.9" fill="rgb(230,230,230)"/>
<rect x="393.2" y="233.9" width="1.3" height="0.9" fill="rgb(205,205,205)"/>
<rect x="378.8" y="237.1" width="1.3" height="0.9" fill="rgb(205,205,205)"/>
<rect x="397.6" y="243.4" width="1.3" height="0.9" fill="rgb(230,230,230)"/>
<rect x="413.7" y="235.8" width="1.3" height="0.9" fill="rgb(150,150,150)"/>
<rect x="410.3" y="235.6" width="1.3" height="0.9" fill="rgb(150,150,150)"/>
<rect x="390.0" y="234.8" width="1.3" height="0.9" fill="rgb(230,230,230)"/>
<rect x="397.5" y="231.6" width="1.3" height="0.9" fill="rgb(180,180,180)"/>
<rect x="385.7" y="235.6" width="1.3" height="0.9" fill="rgb(230,230,230)"/>
<rect x="405.5" y="232.8" width="1.3" height="0.9" fill="rgb(180,180,180)"/>
<rect x="404.3" y="241.9" width="1.3" height="0.9" fill="rgb(150,150,150)"/>
<rect x="391.8" y="245.7" width="1.3" height="0.9" fill="rgb(230,230,230)"/>
<rect x="397.9" y="243.6" width="1.3" height="0.9" fill="rgb(205,205,205)"/>
<rect x="391.3" y="233.3" width="1.3" height="0.9" fill="rgb(180,180,180)"/>
<rect x="381.7" y="237.9" width="1.3" height="0.9" fill="rgb(230,230,230)"/>
<rect x="393.2" y="233.9" width="1.3" height="0.9" fill="rgb(230,230,230)"/>
<rect x="395.0" y="244.4" width="1.3" height="0.9" fill="rgb(180,180,180)"/>
<rect x="390.5" y="234.7" width="1.3" height="0.9" fill="rgb(230,230,230)"/>
<rect x="411.7" y="234.8" width="1.3" height="0.9" fill="rgb(230,230,230)"/>
<rect x="397.9" y="232.1" width="1.3" height="0.9" fill="rgb(150,150,150)"/>
<rect x="404.0" y="241.6" width="1.3" height="0.9" fill="rgb(230,230,230)"/>
<rect x="384.9" y="241.7" width="1.3" height="0.9" fill="rgb(205,205,205)"/>
<rect x="410.8" y="238.8" width="1.3" height="0.9" fill="rgb(230,230,230)"/>
<rect x="405.0" y="242.6" width="1.3" height="0.9" fill="rgb(205,205,205)"/>
<rect x="409.3" y="238.9" width="1.3" height="0.9" fill="rgb(150,150,150)"/>
<rect x="384.6" y="240.6" width="1.3" height="0.9" fill="rgb(180,180,180)"/>
<rect x="408.1" y="239.5" width="1.3" height="0.9" fill="rgb(205,205,205)"/>
<rect x="387.4" y="234.5" width="1.3" height="0.9" fill="rgb(180,180,180)"/>
<rect x="397.4" y="244.8" width="1.3" height="0.9" fill="rgb(230,230,230)"/>
<rect x="407.6" y="234.7" width="1.3" height="0.9" fill="rgb(205,205,205)"/>
<rect x="408.3" y="240.6" width="1.3" height="0.9" fill="rgb(180,180,180)"/>
<rect x="408.9" y="235.5" width="1.3" height="0.9" fill="rgb(180,180,180)"/>
<rect x="396.0" y="232.0" width="1.3" height="0.9" fill="rgb(205,205,205)"/>
<rect x="390.0" y="243.6" width="1.3" height="0.9" fill="rgb(230,230,230)"/>
<rect x="398.3" y="243.4" width="1.3" height="0.9" fill="rgb(205,205,205)"/>
<rect x="383.1" y="235.5" width="1.3" height="0.9" fill="rgb(230,230,230)"/>
<rect x="412.9" y="239.2" width="1.3" height="0.9" fill="rgb(180,180,180)"/>
<path d="M405,225 L439,218.6 L464,225.5 L435,235 Z" fill="#141414"/>
<path d="M380,237.5 L401,232 L414.5,237.5 L393,244.5 Z" fill="#121212"/>
<path d="M318,228 L334,224 L342,226.5 L326,230.5 Z" fill="#1a1a1a"/>
<path d="M349,232 L364,228.5 L374,232 L358,235.5 Z" fill="#2e2622"/>
<path d="M381.0,238.5 L378.5,240.5" stroke="#d0d0d0" stroke-width="0.8"/>
<path d="M383.6,239.4 L381.1,241.4" stroke="#d0d0d0" stroke-width="0.8"/>
<path d="M386.2,240.3 L383.7,242.3" stroke="#d0d0d0" stroke-width="0.8"/>
<path d="M388.8,241.2 L386.3,243.2" stroke="#d0d0d0" stroke-width="0.8"/>
<path d="M391.4,242.1 L388.9,244.1" stroke="#d0d0d0" stroke-width="0.8"/>
<path d="M364,208 L380,204.5 L383,213 L367,216.5 Z" fill="#1c1c1c"/>
<path d="M366,209 L368.5,208.5 L370,215.5 L367.5,216 Z M372,207.8 L374.5,207.2 L376,214.3 L373.5,214.8 Z M378,206.6 L380,206.1 L381.5,213 L379.5,213.5 Z" fill="#d4d4d4"/>
<circle cx="357" cy="213.5" r="2.6" fill="#8a7a5a"/>
<path d="M400,210 L413,208 L414,212 L401,214 Z" fill="#1a1a1a"/>
<path d="M423,212 L435,210 L436,214 L424,216 Z" fill="#1a1a1a"/>
<circle cx="396.5" cy="217.5" r="1.2" fill="#3cd060"/>
</g>
<defs>
<linearGradient id="cvR" x1="0" y1="0" x2="0" y2="1">
<stop offset="0" stop-color="#e6e6e6"/><stop offset="0.6" stop-color="#e1e1e1"/><stop offset="1" stop-color="#dadada"/>
</linearGradient>
<linearGradient id="cvRx" x1="0" y1="0" x2="1" y2="0">
<stop offset="0" stop-color="#000" stop-opacity="0"/><stop offset="0.88" stop-color="#000" stop-opacity="0"/><stop offset="1" stop-color="#000" stop-opacity="0.075"/>
</linearGradient>
<linearGradient id="cvIn" x1="0" y1="0" x2="0" y2="1"><stop offset="0" stop-color="#5c5c5c"/><stop offset="0.5" stop-color="#636363"/><stop offset="0.76" stop-color="#6e6e6e"/><stop offset="0.85" stop-color="#7c7c7c"/><stop offset="0.87" stop-color="#909090"/><stop offset="1" stop-color="#a4a4a4"/></linearGradient>
<linearGradient id="cvRb" gradientUnits="userSpaceOnUse" x1="660" y1="391" x2="671" y2="440"><stop offset="0" stop-color="#000" stop-opacity="0"/><stop offset="1" stop-color="#000" stop-opacity="0.08"/></linearGradient>
<linearGradient id="cvTop" x1="0" y1="0" x2="0" y2="1"><stop offset="0" stop-color="#e8e8e8"/><stop offset="1" stop-color="#e6e6e6"/></linearGradient>
</defs>
<g id="cover">
<path d="M516,185 Q516,172 527,169 L642,150 L700,164 Q722,170 725,192 L725,414 Q725,428 712,432 L604,457 Q601,458 597,457 L545,437 Q525,428 522,410 Z" fill="url(#cvR)"/>
<path d="M601,405 L725,376 L725,414 Q725,428 712,432 L604,457 Z" fill="url(#cvRb)"/>
<path d="M527,169 L642,150 L700,164 Q718,169 722,182 L602,203 Q599,192 590,189 Z" fill="url(#cvTop)"/>
<path d="M516,185 Q516,172 527,169 L642,150 L700,164 Q722,170 725,192 L725,414 Q725,428 712,432 L604,457 Q601,458 597,457 L545,437 Q525,428 522,410 Z" fill="url(#cvRx)"/>

<path d="M516,185 Q516,172 527,169 L590,188 Q601,192 601,205 L602,452 Q602,458 596,457 L545,437 Q525,428 522,410 Z" fill="#f3f3f3" stroke="#d0d0d0" stroke-width="0.6"/>
<path d="M521.5,185 Q522,177 527,177.5 L573,189.5 Q596,196 596.5,210 L599.5,447 Q599,451 594,450 L550,430 Q527,420 526.5,405 Z" fill="url(#cvIn)"/>
<path d="M521.5,185 L526.5,405" stroke="#bdbdbd" stroke-width="1.2" fill="none"/>
<ellipse cx="618.5" cy="169" rx="22.5" ry="5.5" fill="#ececec" stroke="#dcdcdc" stroke-width="0.8"/>
<path d="M597.5,168 Q596,170.5 599,172" stroke="#707070" stroke-width="0.9" fill="none"/>
<path d="M639.5,168 Q641,170.5 638,172" stroke="#707070" stroke-width="0.9" fill="none"/>
<circle cx="639.2" cy="154.2" r="1.8" fill="#9be59b"/><circle cx="639.2" cy="154.2" r="1.1" fill="#2f8f2f"/>
</g>

<g id="lines" fill="#0f8ce0" stroke="#0f8ce0">
<path d="M370,282 L304,282 L304,580" stroke-width="2.2" fill="none"/>
<circle cx="370" cy="280.6" r="5.5" stroke="none"/>
<path d="M627.1,431 L627.1,580" stroke-width="2.2" fill="none"/>
<circle cx="627.1" cy="430.6" r="5.4" stroke="none"/>
</g>

</svg>

<div class="box b1"></div>
<div class="box b2"></div>
<div class="ln" style="left:145px;top:602px;letter-spacing:1.39px">15A relay,</div>
<div class="ln" style="left:115px;top:640px;letter-spacing:1.79px">Avoid current</div>
<div class="ln" style="left:154.5px;top:677px;letter-spacing:2.5px">overload</div>
<div class="ln" style="left:490.5px;top:594.5px;letter-spacing:1.88px">PC flame</div>
<div class="ln" style="left:441px;top:631px;letter-spacing:2.36px">retardant cover,</div>
<div class="ln" style="left:420.6px;top:670px;letter-spacing:0.75px">FCC &amp; ETL certified</div>
</body></html>
